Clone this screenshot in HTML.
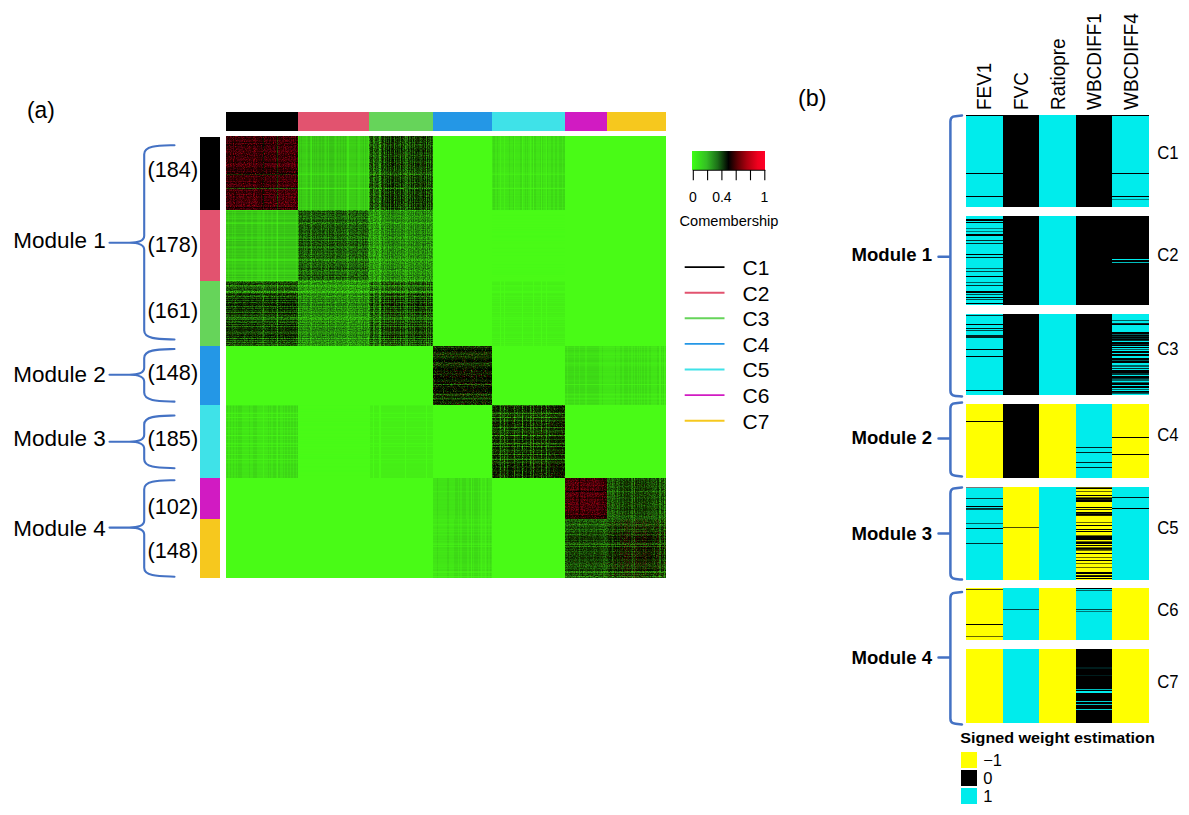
<!DOCTYPE html>
<html lang="en"><head><meta charset="utf-8"><title>Comembership heatmap and signed weight estimation</title>
<style>
html,body{margin:0;padding:0;background:#fff;}
svg{display:block;font-family:"Liberation Sans", sans-serif;}
text{fill:#000;}
</style></head><body>
<svg width="1189" height="815" viewBox="0 0 1189 815">
<rect width="1189" height="815" fill="#fff"/>
<g shape-rendering="crispEdges">
<rect x="226" y="112" width="72" height="19" fill="#000000"/>
<rect x="200" y="137" width="20" height="73" fill="#000000"/>
<rect x="298" y="112" width="71" height="19" fill="#E2536F"/>
<rect x="200" y="210" width="20" height="71" fill="#E2536F"/>
<rect x="369" y="112" width="64" height="19" fill="#66D45A"/>
<rect x="200" y="281" width="20" height="65" fill="#66D45A"/>
<rect x="433" y="112" width="59" height="19" fill="#2497E6"/>
<rect x="200" y="346" width="20" height="59" fill="#2497E6"/>
<rect x="492" y="112" width="73" height="19" fill="#3FE2E8"/>
<rect x="200" y="405" width="20" height="73" fill="#3FE2E8"/>
<rect x="565" y="112" width="42" height="19" fill="#D11BC2"/>
<rect x="200" y="478" width="20" height="41" fill="#D11BC2"/>
<rect x="607" y="112" width="59" height="19" fill="#F6C81E"/>
<rect x="200" y="519" width="20" height="59" fill="#F6C81E"/>
</g>
<defs><filter id="spk" x="0" y="0" width="1" height="1" color-interpolation-filters="sRGB"><feTurbulence type="fractalNoise" baseFrequency="0.85" numOctaves="1" seed="5" result="n"/><feColorMatrix in="n" type="matrix" values="0 0 0 0 0  0 0 0 0 0  0 0 0 0 0  2.6 0 0 0 -1.0"/><feComposite in2="SourceAlpha" operator="in"/></filter><filter id="spr" x="0" y="0" width="1" height="1" color-interpolation-filters="sRGB"><feTurbulence type="fractalNoise" baseFrequency="0.9" numOctaves="1" seed="23" result="n"/><feColorMatrix in="n" type="matrix" values="0 0 0 0 0.75  0 0 0 0 0.02  0 0 0 0 0.08  0 3.2 0 0 -1.75"/><feComposite in2="SourceAlpha" operator="in"/></filter><filter id="spg" x="0" y="0" width="1" height="1" color-interpolation-filters="sRGB"><feTurbulence type="fractalNoise" baseFrequency="0.9" numOctaves="1" seed="41" result="n"/><feColorMatrix in="n" type="matrix" values="0 0 0 0 0.28  0 0 0 0 0.98  0 0 0 0 0.09  0 0 2.6 0 -1.35"/><feComposite in2="SourceAlpha" operator="in"/></filter></defs>
<filter id="soft" x="-1%" y="-1%" width="102%" height="102%"><feGaussianBlur stdDeviation="0.5"/></filter>
<g filter="url(#soft)">
<g shape-rendering="crispEdges">
<rect x="226" y="136" width="440" height="442" fill="#48FB18"/>
<path d="M277.5 136V210" stroke="#20710B" fill="none"/>
<path d="M263.5 136V210" stroke="#0B2604" fill="none"/>
<path d="M296.5 136V210" stroke="#260204" fill="none"/>
<path d="M262.5 136V210" stroke="#300206" fill="none"/>
<path d="M235.5 136V210" stroke="#390307" fill="none"/>
<path d="M232.5 136V210M234.5 136V210M252.5 136V210M260.5 136V210M276.5 136V210" stroke="#430408" fill="none"/>
<path d="M228.5 136V210M245.5 136V210M258.5 136V210M271.5 136V210M284.5 136V210" stroke="#4C0409" fill="none"/>
<path d="M246.5 136V210M251.5 136V210M257.5 136V210M259.5 136V210M264.5 136V210M267.5 136V210M272.5 136V210" stroke="#55040A" fill="none"/>
<path d="M226.5 136V210M229.5 136V210M237.5 136V210M242.5 136V210M243.5 136V210M244.5 136V210M250.5 136V210M269.5 136V210M280.5 136V210M281.5 136V210M282.5 136V210" stroke="#5F050B" fill="none"/>
<path d="M231.5 136V210M236.5 136V210M238.5 136V210M247.5 136V210M248.5 136V210M255.5 136V210M261.5 136V210M265.5 136V210M266.5 136V210M268.5 136V210M274.5 136V210M287.5 136V210M290.5 136V210M292.5 136V210M293.5 136V210" stroke="#69060C" fill="none"/>
<path d="M227.5 136V210M239.5 136V210M240.5 136V210M256.5 136V210M273.5 136V210M275.5 136V210M278.5 136V210M288.5 136V210M289.5 136V210M297.5 136V210" stroke="#72060D" fill="none"/>
<path d="M230.5 136V210M233.5 136V210M241.5 136V210M253.5 136V210M285.5 136V210M286.5 136V210M294.5 136V210" stroke="#7B060E" fill="none"/>
<path d="M249.5 136V210M254.5 136V210M270.5 136V210M279.5 136V210M283.5 136V210M291.5 136V210M295.5 136V210" stroke="#85070F" fill="none"/>
<path d="M226 151.5H298M226 159.5H298M226 194.5H298M226 196.5H298" stroke="#000000" stroke-opacity="0.05" fill="none"/>
<path d="M226 140.5H298M226 143.5H298M226 197.5H298M226 205.5H298" stroke="#000000" stroke-opacity="0.1" fill="none"/>
<path d="M226 163.5H298M226 166.5H298" stroke="#000000" stroke-opacity="0.15" fill="none"/>
<path d="M226 137.5H298M226 149.5H298M226 150.5H298M226 165.5H298M226 184.5H298M226 185.5H298M226 186.5H298M226 189.5H298M226 199.5H298M226 200.5H298M226 208.5H298" stroke="#000000" stroke-opacity="0.2" fill="none"/>
<path d="M226 141.5H298M226 146.5H298M226 148.5H298M226 157.5H298M226 171.5H298M226 176.5H298M226 179.5H298M226 198.5H298M226 203.5H298M226 209.5H298" stroke="#000000" stroke-opacity="0.25" fill="none"/>
<path d="M226 147.5H298M226 153.5H298M226 158.5H298M226 160.5H298M226 177.5H298M226 201.5H298M226 204.5H298" stroke="#000000" stroke-opacity="0.3" fill="none"/>
<path d="M226 136.5H298M226 139.5H298M226 152.5H298M226 180.5H298M226 192.5H298M226 193.5H298" stroke="#000000" stroke-opacity="0.35" fill="none"/>
<path d="M226 154.5H298M226 169.5H298M226 175.5H298M226 178.5H298M226 191.5H298" stroke="#000000" stroke-opacity="0.4" fill="none"/>
<path d="M226 156.5H298M226 161.5H298M226 167.5H298M226 183.5H298" stroke="#000000" stroke-opacity="0.45" fill="none"/>
<path d="M226 138.5H298M226 155.5H298M226 168.5H298" stroke="#000000" stroke-opacity="0.5" fill="none"/>
<path d="M226 182.5H298M226 195.5H298" stroke="#000000" stroke-opacity="0.55" fill="none"/>
<path d="M226 162.5H298M226 170.5H298M226 187.5H298" stroke="#000000" stroke-opacity="0.6" fill="none"/>
<path d="M226 142.5H298M226 144.5H298M226 145.5H298" stroke="#000000" stroke-opacity="0.65" fill="none"/>
<path d="M226 172.5H298" stroke="#000000" stroke-opacity="0.7" fill="none"/>
<path d="M226 173.5H298M226 207.5H298" stroke="#000000" stroke-opacity="0.85" fill="none"/>
<path d="M226 174.5H298" stroke="#123F06" stroke-opacity="0.9" fill="none"/>
<path d="M226 188.5H298" stroke="#247E0C" stroke-opacity="0.9" fill="none"/>
<path d="M298.5 136V210M311.5 136V210M347.5 136V210M348.5 136V210M368.5 136V210" stroke="#41E216" fill="none"/>
<path d="M306.5 136V210M310.5 136V210M325.5 136V210M328.5 136V210M335.5 136V210M358.5 136V210M359.5 136V210M364.5 136V210" stroke="#3DD514" fill="none"/>
<path d="M300.5 136V210M302.5 136V210M303.5 136V210M304.5 136V210M305.5 136V210M307.5 136V210M313.5 136V210M315.5 136V210M317.5 136V210M318.5 136V210M321.5 136V210M324.5 136V210M326.5 136V210M334.5 136V210M336.5 136V210M338.5 136V210M339.5 136V210M341.5 136V210M342.5 136V210M344.5 136V210M346.5 136V210M349.5 136V210M350.5 136V210M351.5 136V210M352.5 136V210M353.5 136V210M354.5 136V210M355.5 136V210M357.5 136V210M360.5 136V210M361.5 136V210M362.5 136V210M366.5 136V210M367.5 136V210" stroke="#3AC913" fill="none"/>
<path d="M299.5 136V210M301.5 136V210M308.5 136V210M309.5 136V210M312.5 136V210M314.5 136V210M316.5 136V210M319.5 136V210M320.5 136V210M322.5 136V210M323.5 136V210M327.5 136V210M329.5 136V210M330.5 136V210M331.5 136V210M332.5 136V210M333.5 136V210M337.5 136V210M340.5 136V210M343.5 136V210M345.5 136V210M356.5 136V210M363.5 136V210M365.5 136V210" stroke="#36BC12" fill="none"/>
<path d="M298 137.5H369M298 140.5H369M298 143.5H369M298 149.5H369M298 150.5H369M298 163.5H369M298 165.5H369M298 166.5H369M298 184.5H369M298 185.5H369M298 186.5H369M298 189.5H369M298 197.5H369M298 199.5H369M298 200.5H369M298 205.5H369M298 208.5H369" stroke="#48FB18" stroke-opacity="0.05" fill="none"/>
<path d="M298 136.5H369M298 139.5H369M298 141.5H369M298 146.5H369M298 147.5H369M298 148.5H369M298 152.5H369M298 153.5H369M298 157.5H369M298 158.5H369M298 160.5H369M298 171.5H369M298 176.5H369M298 177.5H369M298 179.5H369M298 180.5H369M298 192.5H369M298 193.5H369M298 198.5H369M298 201.5H369M298 203.5H369M298 204.5H369M298 209.5H369" stroke="#48FB18" stroke-opacity="0.1" fill="none"/>
<path d="M298 138.5H369M298 154.5H369M298 155.5H369M298 156.5H369M298 161.5H369M298 167.5H369M298 168.5H369M298 169.5H369M298 175.5H369M298 178.5H369M298 183.5H369M298 191.5H369" stroke="#48FB18" stroke-opacity="0.15" fill="none"/>
<path d="M298 142.5H369M298 144.5H369M298 145.5H369M298 162.5H369M298 170.5H369M298 182.5H369M298 187.5H369M298 195.5H369" stroke="#48FB18" stroke-opacity="0.2" fill="none"/>
<path d="M298 172.5H369" stroke="#48FB18" stroke-opacity="0.25" fill="none"/>
<path d="M298 173.5H369M298 207.5H369" stroke="#48FB18" stroke-opacity="0.3" fill="none"/>
<path d="M298 174.5H369" stroke="#48FB18" stroke-opacity="0.5" fill="none"/>
<path d="M298 188.5H369" stroke="#48FB18" stroke-opacity="0.7" fill="none"/>
<path d="M379.5 136V210" stroke="#3AC913" fill="none"/>
<path d="M380.5 136V210" stroke="#36BC12" fill="none"/>
<path d="M373.5 136V210" stroke="#32B011" fill="none"/>
<path d="M369.5 136V210M426.5 136V210" stroke="#2FA310" fill="none"/>
<path d="M405.5 136V210" stroke="#2B970E" fill="none"/>
<path d="M374.5 136V210M384.5 136V210M400.5 136V210M407.5 136V210M414.5 136V210" stroke="#288A0D" fill="none"/>
<path d="M394.5 136V210M430.5 136V210" stroke="#247E0C" fill="none"/>
<path d="M390.5 136V210M406.5 136V210M428.5 136V210" stroke="#20710B" fill="none"/>
<path d="M378.5 136V210M388.5 136V210M409.5 136V210M410.5 136V210M412.5 136V210M432.5 136V210" stroke="#1D640A" fill="none"/>
<path d="M375.5 136V210M376.5 136V210M386.5 136V210M396.5 136V210M403.5 136V210M420.5 136V210" stroke="#195808" fill="none"/>
<path d="M370.5 136V210M377.5 136V210M421.5 136V210M424.5 136V210" stroke="#164B07" fill="none"/>
<path d="M371.5 136V210M381.5 136V210M383.5 136V210M398.5 136V210M419.5 136V210" stroke="#123F06" fill="none"/>
<path d="M399.5 136V210M402.5 136V210M404.5 136V210M429.5 136V210" stroke="#0E3205" fill="none"/>
<path d="M372.5 136V210M385.5 136V210M415.5 136V210M416.5 136V210M417.5 136V210M422.5 136V210M431.5 136V210" stroke="#0B2604" fill="none"/>
<path d="M391.5 136V210M408.5 136V210M418.5 136V210" stroke="#071902" fill="none"/>
<path d="M382.5 136V210M395.5 136V210M397.5 136V210M411.5 136V210M427.5 136V210" stroke="#040D01" fill="none"/>
<path d="M387.5 136V210M389.5 136V210M392.5 136V210M393.5 136V210M401.5 136V210M413.5 136V210M423.5 136V210M425.5 136V210" stroke="#000000" fill="none"/>
<path d="M369 137.5H433M369 140.5H433M369 143.5H433M369 149.5H433M369 150.5H433M369 163.5H433M369 165.5H433M369 166.5H433M369 184.5H433M369 185.5H433M369 186.5H433M369 189.5H433M369 197.5H433M369 199.5H433M369 200.5H433M369 205.5H433M369 208.5H433" stroke="#48FB18" stroke-opacity="0.05" fill="none"/>
<path d="M369 136.5H433M369 139.5H433M369 141.5H433M369 146.5H433M369 147.5H433M369 148.5H433M369 152.5H433M369 153.5H433M369 157.5H433M369 158.5H433M369 160.5H433M369 171.5H433M369 176.5H433M369 177.5H433M369 179.5H433M369 180.5H433M369 192.5H433M369 193.5H433M369 198.5H433M369 201.5H433M369 203.5H433M369 204.5H433M369 209.5H433" stroke="#48FB18" stroke-opacity="0.1" fill="none"/>
<path d="M369 138.5H433M369 154.5H433M369 155.5H433M369 156.5H433M369 161.5H433M369 167.5H433M369 168.5H433M369 169.5H433M369 175.5H433M369 178.5H433M369 183.5H433M369 191.5H433" stroke="#48FB18" stroke-opacity="0.15" fill="none"/>
<path d="M369 142.5H433M369 144.5H433M369 145.5H433M369 162.5H433M369 170.5H433M369 182.5H433M369 187.5H433M369 195.5H433" stroke="#48FB18" stroke-opacity="0.2" fill="none"/>
<path d="M369 172.5H433" stroke="#48FB18" stroke-opacity="0.25" fill="none"/>
<path d="M369 173.5H433M369 207.5H433" stroke="#48FB18" stroke-opacity="0.3" fill="none"/>
<path d="M369 174.5H433" stroke="#48FB18" stroke-opacity="0.5" fill="none"/>
<path d="M369 188.5H433" stroke="#48FB18" stroke-opacity="0.7" fill="none"/>
<path d="M500.5 136V210M504.5 136V210M514.5 136V210M522.5 136V210M530.5 136V210M533.5 136V210M541.5 136V210M546.5 136V210" stroke="#44EE17" fill="none"/>
<path d="M492.5 136V210M495.5 136V210M496.5 136V210M498.5 136V210M499.5 136V210M501.5 136V210M502.5 136V210M503.5 136V210M505.5 136V210M506.5 136V210M507.5 136V210M508.5 136V210M510.5 136V210M511.5 136V210M512.5 136V210M515.5 136V210M516.5 136V210M517.5 136V210M518.5 136V210M519.5 136V210M523.5 136V210M524.5 136V210M526.5 136V210M528.5 136V210M529.5 136V210M531.5 136V210M536.5 136V210M537.5 136V210M538.5 136V210M539.5 136V210M543.5 136V210M544.5 136V210M545.5 136V210M548.5 136V210M549.5 136V210M550.5 136V210M553.5 136V210M554.5 136V210M557.5 136V210M558.5 136V210M562.5 136V210" stroke="#41E216" fill="none"/>
<path d="M493.5 136V210M494.5 136V210M497.5 136V210M509.5 136V210M513.5 136V210M520.5 136V210M521.5 136V210M525.5 136V210M527.5 136V210M532.5 136V210M534.5 136V210M535.5 136V210M540.5 136V210M542.5 136V210M547.5 136V210M551.5 136V210M552.5 136V210M555.5 136V210M556.5 136V210M559.5 136V210M560.5 136V210M561.5 136V210M563.5 136V210M564.5 136V210" stroke="#3DD514" fill="none"/>
<path d="M492 137.5H565M492 140.5H565M492 143.5H565M492 149.5H565M492 150.5H565M492 163.5H565M492 165.5H565M492 166.5H565M492 184.5H565M492 185.5H565M492 186.5H565M492 189.5H565M492 197.5H565M492 199.5H565M492 200.5H565M492 205.5H565M492 208.5H565" stroke="#48FB18" stroke-opacity="0.05" fill="none"/>
<path d="M492 136.5H565M492 139.5H565M492 141.5H565M492 146.5H565M492 147.5H565M492 148.5H565M492 152.5H565M492 153.5H565M492 157.5H565M492 158.5H565M492 160.5H565M492 171.5H565M492 176.5H565M492 177.5H565M492 179.5H565M492 180.5H565M492 192.5H565M492 193.5H565M492 198.5H565M492 201.5H565M492 203.5H565M492 204.5H565M492 209.5H565" stroke="#48FB18" stroke-opacity="0.1" fill="none"/>
<path d="M492 138.5H565M492 154.5H565M492 155.5H565M492 156.5H565M492 161.5H565M492 167.5H565M492 168.5H565M492 169.5H565M492 175.5H565M492 178.5H565M492 183.5H565M492 191.5H565" stroke="#48FB18" stroke-opacity="0.15" fill="none"/>
<path d="M492 142.5H565M492 144.5H565M492 145.5H565M492 162.5H565M492 170.5H565M492 182.5H565M492 187.5H565M492 195.5H565" stroke="#48FB18" stroke-opacity="0.2" fill="none"/>
<path d="M492 172.5H565" stroke="#48FB18" stroke-opacity="0.25" fill="none"/>
<path d="M492 173.5H565M492 207.5H565" stroke="#48FB18" stroke-opacity="0.3" fill="none"/>
<path d="M492 174.5H565" stroke="#48FB18" stroke-opacity="0.5" fill="none"/>
<path d="M492 188.5H565" stroke="#48FB18" stroke-opacity="0.7" fill="none"/>
<path d="M277.5 210V281" stroke="#41E216" fill="none"/>
<path d="M263.5 210V281" stroke="#3DD514" fill="none"/>
<path d="M228.5 210V281M232.5 210V281M234.5 210V281M235.5 210V281M245.5 210V281M246.5 210V281M251.5 210V281M252.5 210V281M257.5 210V281M258.5 210V281M259.5 210V281M260.5 210V281M262.5 210V281M264.5 210V281M267.5 210V281M271.5 210V281M272.5 210V281M276.5 210V281M284.5 210V281M296.5 210V281" stroke="#3AC913" fill="none"/>
<path d="M226.5 210V281M227.5 210V281M229.5 210V281M230.5 210V281M231.5 210V281M233.5 210V281M236.5 210V281M237.5 210V281M238.5 210V281M239.5 210V281M240.5 210V281M241.5 210V281M242.5 210V281M243.5 210V281M244.5 210V281M247.5 210V281M248.5 210V281M249.5 210V281M250.5 210V281M253.5 210V281M254.5 210V281M255.5 210V281M256.5 210V281M261.5 210V281M265.5 210V281M266.5 210V281M268.5 210V281M269.5 210V281M270.5 210V281M273.5 210V281M274.5 210V281M275.5 210V281M278.5 210V281M279.5 210V281M280.5 210V281M281.5 210V281M282.5 210V281M283.5 210V281M285.5 210V281M286.5 210V281M287.5 210V281M288.5 210V281M289.5 210V281M290.5 210V281M291.5 210V281M292.5 210V281M293.5 210V281M294.5 210V281M295.5 210V281M297.5 210V281" stroke="#36BC12" fill="none"/>
<path d="M226 211.5H298M226 226.5H298M226 228.5H298M226 244.5H298M226 249.5H298M226 257.5H298" stroke="#48FB18" stroke-opacity="0.05" fill="none"/>
<path d="M226 221.5H298M226 224.5H298M226 231.5H298M226 232.5H298M226 235.5H298M226 252.5H298M226 255.5H298" stroke="#48FB18" stroke-opacity="0.1" fill="none"/>
<path d="M226 214.5H298M226 217.5H298M226 219.5H298M226 225.5H298M226 230.5H298M226 242.5H298M226 243.5H298M226 251.5H298M226 261.5H298M226 265.5H298M226 269.5H298" stroke="#48FB18" stroke-opacity="0.15" fill="none"/>
<path d="M226 215.5H298M226 227.5H298M226 229.5H298M226 236.5H298M226 248.5H298M226 264.5H298M226 267.5H298M226 272.5H298M226 274.5H298" stroke="#48FB18" stroke-opacity="0.2" fill="none"/>
<path d="M226 212.5H298M226 250.5H298M226 253.5H298M226 254.5H298M226 256.5H298M226 258.5H298M226 262.5H298M226 266.5H298M226 278.5H298M226 279.5H298" stroke="#48FB18" stroke-opacity="0.25" fill="none"/>
<path d="M226 216.5H298M226 233.5H298M226 238.5H298M226 246.5H298M226 263.5H298" stroke="#48FB18" stroke-opacity="0.3" fill="none"/>
<path d="M226 218.5H298M226 237.5H298M226 271.5H298M226 273.5H298" stroke="#48FB18" stroke-opacity="0.35" fill="none"/>
<path d="M226 222.5H298M226 247.5H298M226 276.5H298" stroke="#48FB18" stroke-opacity="0.4" fill="none"/>
<path d="M226 240.5H298M226 270.5H298" stroke="#48FB18" stroke-opacity="0.45" fill="none"/>
<path d="M226 223.5H298M226 259.5H298M226 260.5H298" stroke="#48FB18" stroke-opacity="0.55" fill="none"/>
<path d="M226 210.5H298" stroke="#48FB18" stroke-opacity="0.6" fill="none"/>
<path d="M226 280.5H298" stroke="#48FB18" stroke-opacity="0.65" fill="none"/>
<path d="M368.5 210V281" stroke="#32B011" fill="none"/>
<path d="M298.5 210V281M311.5 210V281M347.5 210V281" stroke="#2FA310" fill="none"/>
<path d="M348.5 210V281" stroke="#2B970E" fill="none"/>
<path d="M328.5 210V281M358.5 210V281" stroke="#288A0D" fill="none"/>
<path d="M310.5 210V281M335.5 210V281M364.5 210V281" stroke="#247E0C" fill="none"/>
<path d="M306.5 210V281M321.5 210V281M325.5 210V281M359.5 210V281M361.5 210V281" stroke="#20710B" fill="none"/>
<path d="M304.5 210V281M326.5 210V281M334.5 210V281M341.5 210V281M344.5 210V281M346.5 210V281M350.5 210V281M351.5 210V281M354.5 210V281M366.5 210V281" stroke="#1D640A" fill="none"/>
<path d="M300.5 210V281M303.5 210V281M315.5 210V281M317.5 210V281M324.5 210V281M336.5 210V281M338.5 210V281M342.5 210V281M352.5 210V281M355.5 210V281M360.5 210V281M362.5 210V281M367.5 210V281" stroke="#195808" fill="none"/>
<path d="M302.5 210V281M305.5 210V281M307.5 210V281M313.5 210V281M318.5 210V281M330.5 210V281M331.5 210V281M339.5 210V281M349.5 210V281M353.5 210V281M357.5 210V281" stroke="#164B07" fill="none"/>
<path d="M309.5 210V281M312.5 210V281M316.5 210V281M319.5 210V281M320.5 210V281M323.5 210V281M340.5 210V281M343.5 210V281M345.5 210V281" stroke="#123F06" fill="none"/>
<path d="M299.5 210V281M301.5 210V281M308.5 210V281M314.5 210V281M322.5 210V281M327.5 210V281M329.5 210V281M332.5 210V281M333.5 210V281M337.5 210V281M356.5 210V281M363.5 210V281M365.5 210V281" stroke="#0E3205" fill="none"/>
<path d="M298 211.5H369M298 226.5H369M298 228.5H369M298 244.5H369M298 249.5H369M298 257.5H369" stroke="#48FB18" stroke-opacity="0.05" fill="none"/>
<path d="M298 221.5H369M298 224.5H369M298 231.5H369M298 232.5H369M298 235.5H369M298 252.5H369M298 255.5H369" stroke="#48FB18" stroke-opacity="0.1" fill="none"/>
<path d="M298 214.5H369M298 217.5H369M298 219.5H369M298 225.5H369M298 230.5H369M298 242.5H369M298 243.5H369M298 251.5H369M298 261.5H369M298 265.5H369M298 269.5H369" stroke="#48FB18" stroke-opacity="0.15" fill="none"/>
<path d="M298 215.5H369M298 227.5H369M298 229.5H369M298 236.5H369M298 248.5H369M298 264.5H369M298 267.5H369M298 272.5H369M298 274.5H369" stroke="#48FB18" stroke-opacity="0.2" fill="none"/>
<path d="M298 212.5H369M298 250.5H369M298 253.5H369M298 254.5H369M298 256.5H369M298 258.5H369M298 262.5H369M298 266.5H369M298 278.5H369M298 279.5H369" stroke="#48FB18" stroke-opacity="0.25" fill="none"/>
<path d="M298 216.5H369M298 233.5H369M298 238.5H369M298 246.5H369M298 263.5H369" stroke="#48FB18" stroke-opacity="0.3" fill="none"/>
<path d="M298 218.5H369M298 237.5H369M298 271.5H369M298 273.5H369" stroke="#48FB18" stroke-opacity="0.35" fill="none"/>
<path d="M298 222.5H369M298 247.5H369M298 276.5H369" stroke="#48FB18" stroke-opacity="0.4" fill="none"/>
<path d="M298 240.5H369M298 270.5H369" stroke="#48FB18" stroke-opacity="0.45" fill="none"/>
<path d="M298 223.5H369M298 259.5H369M298 260.5H369" stroke="#48FB18" stroke-opacity="0.55" fill="none"/>
<path d="M298 210.5H369" stroke="#48FB18" stroke-opacity="0.6" fill="none"/>
<path d="M298 280.5H369" stroke="#48FB18" stroke-opacity="0.65" fill="none"/>
<path d="M379.5 210V281" stroke="#41E216" fill="none"/>
<path d="M373.5 210V281M380.5 210V281" stroke="#3DD514" fill="none"/>
<path d="M369.5 210V281M405.5 210V281M426.5 210V281" stroke="#3AC913" fill="none"/>
<path d="M374.5 210V281M384.5 210V281M400.5 210V281M407.5 210V281M414.5 210V281M430.5 210V281" stroke="#36BC12" fill="none"/>
<path d="M390.5 210V281M394.5 210V281M406.5 210V281M412.5 210V281M428.5 210V281M432.5 210V281" stroke="#32B011" fill="none"/>
<path d="M370.5 210V281M375.5 210V281M376.5 210V281M377.5 210V281M378.5 210V281M386.5 210V281M388.5 210V281M396.5 210V281M403.5 210V281M409.5 210V281M410.5 210V281M420.5 210V281M421.5 210V281M424.5 210V281" stroke="#2FA310" fill="none"/>
<path d="M371.5 210V281M381.5 210V281M383.5 210V281M398.5 210V281M419.5 210V281" stroke="#2B970E" fill="none"/>
<path d="M372.5 210V281M385.5 210V281M399.5 210V281M402.5 210V281M404.5 210V281M415.5 210V281M416.5 210V281M417.5 210V281M422.5 210V281M429.5 210V281M431.5 210V281" stroke="#288A0D" fill="none"/>
<path d="M382.5 210V281M391.5 210V281M395.5 210V281M397.5 210V281M408.5 210V281M411.5 210V281M418.5 210V281M427.5 210V281" stroke="#247E0C" fill="none"/>
<path d="M387.5 210V281M389.5 210V281M392.5 210V281M393.5 210V281M401.5 210V281M413.5 210V281M423.5 210V281M425.5 210V281" stroke="#20710B" fill="none"/>
<path d="M369 211.5H433M369 226.5H433M369 228.5H433M369 244.5H433M369 249.5H433M369 257.5H433" stroke="#48FB18" stroke-opacity="0.05" fill="none"/>
<path d="M369 221.5H433M369 224.5H433M369 231.5H433M369 232.5H433M369 235.5H433M369 252.5H433M369 255.5H433" stroke="#48FB18" stroke-opacity="0.1" fill="none"/>
<path d="M369 214.5H433M369 217.5H433M369 219.5H433M369 225.5H433M369 230.5H433M369 242.5H433M369 243.5H433M369 251.5H433M369 261.5H433M369 265.5H433M369 269.5H433" stroke="#48FB18" stroke-opacity="0.15" fill="none"/>
<path d="M369 215.5H433M369 227.5H433M369 229.5H433M369 236.5H433M369 248.5H433M369 264.5H433M369 267.5H433M369 272.5H433M369 274.5H433" stroke="#48FB18" stroke-opacity="0.2" fill="none"/>
<path d="M369 212.5H433M369 250.5H433M369 253.5H433M369 254.5H433M369 256.5H433M369 258.5H433M369 262.5H433M369 266.5H433M369 278.5H433M369 279.5H433" stroke="#48FB18" stroke-opacity="0.25" fill="none"/>
<path d="M369 216.5H433M369 233.5H433M369 238.5H433M369 246.5H433M369 263.5H433" stroke="#48FB18" stroke-opacity="0.3" fill="none"/>
<path d="M369 218.5H433M369 237.5H433M369 271.5H433M369 273.5H433" stroke="#48FB18" stroke-opacity="0.35" fill="none"/>
<path d="M369 222.5H433M369 247.5H433M369 276.5H433" stroke="#48FB18" stroke-opacity="0.4" fill="none"/>
<path d="M369 240.5H433M369 270.5H433" stroke="#48FB18" stroke-opacity="0.45" fill="none"/>
<path d="M369 223.5H433M369 259.5H433M369 260.5H433" stroke="#48FB18" stroke-opacity="0.55" fill="none"/>
<path d="M369 210.5H433" stroke="#48FB18" stroke-opacity="0.6" fill="none"/>
<path d="M369 280.5H433" stroke="#48FB18" stroke-opacity="0.65" fill="none"/>
<path d="M492 211.5H565M492 226.5H565M492 228.5H565M492 244.5H565M492 249.5H565M492 257.5H565" stroke="#48FB18" stroke-opacity="0.05" fill="none"/>
<path d="M492 221.5H565M492 224.5H565M492 231.5H565M492 232.5H565M492 235.5H565M492 252.5H565M492 255.5H565" stroke="#48FB18" stroke-opacity="0.1" fill="none"/>
<path d="M492 214.5H565M492 217.5H565M492 219.5H565M492 225.5H565M492 230.5H565M492 242.5H565M492 243.5H565M492 251.5H565M492 261.5H565M492 265.5H565M492 269.5H565" stroke="#48FB18" stroke-opacity="0.15" fill="none"/>
<path d="M492 215.5H565M492 227.5H565M492 229.5H565M492 236.5H565M492 248.5H565M492 264.5H565M492 267.5H565M492 272.5H565M492 274.5H565" stroke="#48FB18" stroke-opacity="0.2" fill="none"/>
<path d="M492 212.5H565M492 250.5H565M492 253.5H565M492 254.5H565M492 256.5H565M492 258.5H565M492 262.5H565M492 266.5H565M492 278.5H565M492 279.5H565" stroke="#48FB18" stroke-opacity="0.25" fill="none"/>
<path d="M492 216.5H565M492 233.5H565M492 238.5H565M492 246.5H565M492 263.5H565" stroke="#48FB18" stroke-opacity="0.3" fill="none"/>
<path d="M492 218.5H565M492 237.5H565M492 271.5H565M492 273.5H565" stroke="#48FB18" stroke-opacity="0.35" fill="none"/>
<path d="M492 222.5H565M492 247.5H565M492 276.5H565" stroke="#48FB18" stroke-opacity="0.4" fill="none"/>
<path d="M492 240.5H565M492 270.5H565" stroke="#48FB18" stroke-opacity="0.45" fill="none"/>
<path d="M492 223.5H565M492 259.5H565M492 260.5H565" stroke="#48FB18" stroke-opacity="0.55" fill="none"/>
<path d="M492 210.5H565" stroke="#48FB18" stroke-opacity="0.6" fill="none"/>
<path d="M492 280.5H565" stroke="#48FB18" stroke-opacity="0.65" fill="none"/>
<path d="M277.5 281V346" stroke="#32B011" fill="none"/>
<path d="M263.5 281V346" stroke="#247E0C" fill="none"/>
<path d="M262.5 281V346M296.5 281V346" stroke="#164B07" fill="none"/>
<path d="M232.5 281V346M234.5 281V346M235.5 281V346M252.5 281V346M260.5 281V346M271.5 281V346M276.5 281V346M284.5 281V346" stroke="#0E3205" fill="none"/>
<path d="M228.5 281V346M244.5 281V346M245.5 281V346M246.5 281V346M251.5 281V346M257.5 281V346M258.5 281V346M259.5 281V346M264.5 281V346M267.5 281V346M272.5 281V346M280.5 281V346" stroke="#0B2604" fill="none"/>
<path d="M226.5 281V346M229.5 281V346M231.5 281V346M236.5 281V346M237.5 281V346M238.5 281V346M242.5 281V346M243.5 281V346M247.5 281V346M248.5 281V346M250.5 281V346M261.5 281V346M265.5 281V346M266.5 281V346M268.5 281V346M269.5 281V346M281.5 281V346M282.5 281V346M287.5 281V346M290.5 281V346M292.5 281V346M293.5 281V346" stroke="#071902" fill="none"/>
<path d="M227.5 281V346M230.5 281V346M233.5 281V346M239.5 281V346M240.5 281V346M253.5 281V346M255.5 281V346M256.5 281V346M273.5 281V346M274.5 281V346M275.5 281V346M278.5 281V346M286.5 281V346M288.5 281V346M289.5 281V346M294.5 281V346M297.5 281V346" stroke="#040D01" fill="none"/>
<path d="M241.5 281V346M249.5 281V346M254.5 281V346M270.5 281V346M279.5 281V346M283.5 281V346M285.5 281V346M291.5 281V346M295.5 281V346" stroke="#000000" fill="none"/>
<path d="M226 294.5H298M226 307.5H298M226 309.5H298M226 323.5H298M226 339.5H298" stroke="#48FB18" stroke-opacity="0.05" fill="none"/>
<path d="M226 303.5H298M226 320.5H298M226 330.5H298" stroke="#48FB18" stroke-opacity="0.1" fill="none"/>
<path d="M226 284.5H298M226 297.5H298M226 327.5H298M226 328.5H298M226 329.5H298M226 334.5H298M226 343.5H298" stroke="#48FB18" stroke-opacity="0.15" fill="none"/>
<path d="M226 311.5H298M226 314.5H298M226 316.5H298M226 341.5H298" stroke="#48FB18" stroke-opacity="0.2" fill="none"/>
<path d="M226 283.5H298M226 293.5H298M226 295.5H298M226 310.5H298M226 331.5H298" stroke="#48FB18" stroke-opacity="0.25" fill="none"/>
<path d="M226 282.5H298M226 289.5H298M226 333.5H298M226 336.5H298M226 345.5H298" stroke="#48FB18" stroke-opacity="0.3" fill="none"/>
<path d="M226 287.5H298M226 288.5H298M226 298.5H298M226 308.5H298M226 315.5H298M226 332.5H298" stroke="#48FB18" stroke-opacity="0.35" fill="none"/>
<path d="M226 290.5H298M226 300.5H298M226 321.5H298M226 322.5H298M226 324.5H298M226 344.5H298" stroke="#48FB18" stroke-opacity="0.4" fill="none"/>
<path d="M226 302.5H298M226 318.5H298M226 340.5H298" stroke="#48FB18" stroke-opacity="0.45" fill="none"/>
<path d="M226 306.5H298M226 342.5H298" stroke="#48FB18" stroke-opacity="0.5" fill="none"/>
<path d="M226 286.5H298M226 296.5H298M226 312.5H298M226 319.5H298M226 326.5H298" stroke="#48FB18" stroke-opacity="0.55" fill="none"/>
<path d="M226 317.5H298" stroke="#48FB18" stroke-opacity="0.6" fill="none"/>
<path d="M226 281.5H298M226 338.5H298" stroke="#48FB18" stroke-opacity="0.65" fill="none"/>
<path d="M226 285.5H298" stroke="#48FB18" stroke-opacity="0.7" fill="none"/>
<path d="M226 292.5H298" stroke="#48FB18" stroke-opacity="0.75" fill="none"/>
<path d="M226 291.5H298" stroke="#48FB18" stroke-opacity="0.8" fill="none"/>
<path d="M298.5 281V346M368.5 281V346" stroke="#3AC913" fill="none"/>
<path d="M311.5 281V346M347.5 281V346M348.5 281V346" stroke="#36BC12" fill="none"/>
<path d="M310.5 281V346M328.5 281V346M335.5 281V346M358.5 281V346" stroke="#32B011" fill="none"/>
<path d="M306.5 281V346M325.5 281V346M359.5 281V346M361.5 281V346M364.5 281V346" stroke="#2FA310" fill="none"/>
<path d="M300.5 281V346M303.5 281V346M304.5 281V346M315.5 281V346M317.5 281V346M321.5 281V346M326.5 281V346M334.5 281V346M336.5 281V346M338.5 281V346M341.5 281V346M342.5 281V346M344.5 281V346M346.5 281V346M350.5 281V346M351.5 281V346M352.5 281V346M354.5 281V346M355.5 281V346M366.5 281V346M367.5 281V346" stroke="#2B970E" fill="none"/>
<path d="M302.5 281V346M305.5 281V346M307.5 281V346M313.5 281V346M318.5 281V346M324.5 281V346M330.5 281V346M331.5 281V346M339.5 281V346M349.5 281V346M353.5 281V346M357.5 281V346M360.5 281V346M362.5 281V346" stroke="#288A0D" fill="none"/>
<path d="M299.5 281V346M309.5 281V346M312.5 281V346M314.5 281V346M316.5 281V346M319.5 281V346M320.5 281V346M323.5 281V346M332.5 281V346M337.5 281V346M340.5 281V346M343.5 281V346M345.5 281V346" stroke="#247E0C" fill="none"/>
<path d="M301.5 281V346M308.5 281V346M322.5 281V346M327.5 281V346M329.5 281V346M333.5 281V346M356.5 281V346M363.5 281V346M365.5 281V346" stroke="#20710B" fill="none"/>
<path d="M298 294.5H369M298 307.5H369M298 309.5H369M298 323.5H369M298 339.5H369" stroke="#48FB18" stroke-opacity="0.05" fill="none"/>
<path d="M298 303.5H369M298 320.5H369M298 330.5H369" stroke="#48FB18" stroke-opacity="0.1" fill="none"/>
<path d="M298 284.5H369M298 297.5H369M298 327.5H369M298 328.5H369M298 329.5H369M298 334.5H369M298 343.5H369" stroke="#48FB18" stroke-opacity="0.15" fill="none"/>
<path d="M298 311.5H369M298 314.5H369M298 316.5H369M298 341.5H369" stroke="#48FB18" stroke-opacity="0.2" fill="none"/>
<path d="M298 283.5H369M298 293.5H369M298 295.5H369M298 310.5H369M298 331.5H369" stroke="#48FB18" stroke-opacity="0.25" fill="none"/>
<path d="M298 282.5H369M298 289.5H369M298 333.5H369M298 336.5H369M298 345.5H369" stroke="#48FB18" stroke-opacity="0.3" fill="none"/>
<path d="M298 287.5H369M298 288.5H369M298 298.5H369M298 308.5H369M298 315.5H369M298 332.5H369" stroke="#48FB18" stroke-opacity="0.35" fill="none"/>
<path d="M298 290.5H369M298 300.5H369M298 321.5H369M298 322.5H369M298 324.5H369M298 344.5H369" stroke="#48FB18" stroke-opacity="0.4" fill="none"/>
<path d="M298 302.5H369M298 318.5H369M298 340.5H369" stroke="#48FB18" stroke-opacity="0.45" fill="none"/>
<path d="M298 306.5H369M298 342.5H369" stroke="#48FB18" stroke-opacity="0.5" fill="none"/>
<path d="M298 286.5H369M298 296.5H369M298 312.5H369M298 319.5H369M298 326.5H369" stroke="#48FB18" stroke-opacity="0.55" fill="none"/>
<path d="M298 317.5H369" stroke="#48FB18" stroke-opacity="0.6" fill="none"/>
<path d="M298 281.5H369M298 338.5H369" stroke="#48FB18" stroke-opacity="0.65" fill="none"/>
<path d="M298 285.5H369" stroke="#48FB18" stroke-opacity="0.7" fill="none"/>
<path d="M298 292.5H369" stroke="#48FB18" stroke-opacity="0.75" fill="none"/>
<path d="M298 291.5H369" stroke="#48FB18" stroke-opacity="0.8" fill="none"/>
<path d="M379.5 281V346M380.5 281V346" stroke="#36BC12" fill="none"/>
<path d="M373.5 281V346M426.5 281V346" stroke="#2FA310" fill="none"/>
<path d="M369.5 281V346" stroke="#2B970E" fill="none"/>
<path d="M405.5 281V346" stroke="#288A0D" fill="none"/>
<path d="M374.5 281V346M384.5 281V346M400.5 281V346M407.5 281V346" stroke="#247E0C" fill="none"/>
<path d="M414.5 281V346M430.5 281V346" stroke="#20710B" fill="none"/>
<path d="M394.5 281V346M406.5 281V346M428.5 281V346" stroke="#1D640A" fill="none"/>
<path d="M390.5 281V346M412.5 281V346M432.5 281V346" stroke="#195808" fill="none"/>
<path d="M376.5 281V346M378.5 281V346M388.5 281V346M396.5 281V346M403.5 281V346M409.5 281V346M410.5 281V346" stroke="#164B07" fill="none"/>
<path d="M370.5 281V346M375.5 281V346M377.5 281V346M386.5 281V346M420.5 281V346M424.5 281V346" stroke="#123F06" fill="none"/>
<path d="M383.5 281V346M419.5 281V346M421.5 281V346" stroke="#0E3205" fill="none"/>
<path d="M371.5 281V346M381.5 281V346M398.5 281V346" stroke="#0B2604" fill="none"/>
<path d="M399.5 281V346M402.5 281V346M404.5 281V346M429.5 281V346" stroke="#071902" fill="none"/>
<path d="M372.5 281V346M385.5 281V346M415.5 281V346M416.5 281V346M417.5 281V346M422.5 281V346M431.5 281V346" stroke="#040D01" fill="none"/>
<path d="M408.5 281V346M418.5 281V346" stroke="#000000" fill="none"/>
<path d="M382.5 281V346M391.5 281V346M397.5 281V346" stroke="#0A0101" fill="none"/>
<path d="M387.5 281V346M389.5 281V346M392.5 281V346M393.5 281V346M395.5 281V346M401.5 281V346M411.5 281V346M413.5 281V346M423.5 281V346M425.5 281V346M427.5 281V346" stroke="#130102" fill="none"/>
<path d="M369 294.5H433M369 307.5H433M369 309.5H433M369 323.5H433M369 339.5H433" stroke="#48FB18" stroke-opacity="0.05" fill="none"/>
<path d="M369 303.5H433M369 320.5H433M369 330.5H433" stroke="#48FB18" stroke-opacity="0.1" fill="none"/>
<path d="M369 284.5H433M369 297.5H433M369 327.5H433M369 328.5H433M369 329.5H433M369 334.5H433M369 343.5H433" stroke="#48FB18" stroke-opacity="0.15" fill="none"/>
<path d="M369 311.5H433M369 314.5H433M369 316.5H433M369 341.5H433" stroke="#48FB18" stroke-opacity="0.2" fill="none"/>
<path d="M369 283.5H433M369 293.5H433M369 295.5H433M369 310.5H433M369 331.5H433" stroke="#48FB18" stroke-opacity="0.25" fill="none"/>
<path d="M369 282.5H433M369 289.5H433M369 333.5H433M369 336.5H433M369 345.5H433" stroke="#48FB18" stroke-opacity="0.3" fill="none"/>
<path d="M369 287.5H433M369 288.5H433M369 298.5H433M369 308.5H433M369 315.5H433M369 332.5H433" stroke="#48FB18" stroke-opacity="0.35" fill="none"/>
<path d="M369 290.5H433M369 300.5H433M369 321.5H433M369 322.5H433M369 324.5H433M369 344.5H433" stroke="#48FB18" stroke-opacity="0.4" fill="none"/>
<path d="M369 302.5H433M369 318.5H433M369 340.5H433" stroke="#48FB18" stroke-opacity="0.45" fill="none"/>
<path d="M369 306.5H433M369 342.5H433" stroke="#48FB18" stroke-opacity="0.5" fill="none"/>
<path d="M369 286.5H433M369 296.5H433M369 312.5H433M369 319.5H433M369 326.5H433" stroke="#48FB18" stroke-opacity="0.55" fill="none"/>
<path d="M369 317.5H433" stroke="#48FB18" stroke-opacity="0.6" fill="none"/>
<path d="M369 281.5H433M369 338.5H433" stroke="#48FB18" stroke-opacity="0.65" fill="none"/>
<path d="M369 285.5H433" stroke="#48FB18" stroke-opacity="0.7" fill="none"/>
<path d="M369 292.5H433" stroke="#48FB18" stroke-opacity="0.75" fill="none"/>
<path d="M369 291.5H433" stroke="#48FB18" stroke-opacity="0.8" fill="none"/>
<path d="M492.5 281V346M493.5 281V346M494.5 281V346M495.5 281V346M496.5 281V346M497.5 281V346M498.5 281V346M499.5 281V346M501.5 281V346M502.5 281V346M503.5 281V346M505.5 281V346M506.5 281V346M507.5 281V346M508.5 281V346M509.5 281V346M510.5 281V346M511.5 281V346M512.5 281V346M513.5 281V346M514.5 281V346M515.5 281V346M516.5 281V346M517.5 281V346M518.5 281V346M519.5 281V346M520.5 281V346M521.5 281V346M523.5 281V346M524.5 281V346M525.5 281V346M526.5 281V346M527.5 281V346M528.5 281V346M529.5 281V346M530.5 281V346M531.5 281V346M532.5 281V346M534.5 281V346M535.5 281V346M536.5 281V346M537.5 281V346M538.5 281V346M539.5 281V346M540.5 281V346M542.5 281V346M543.5 281V346M544.5 281V346M545.5 281V346M547.5 281V346M548.5 281V346M549.5 281V346M550.5 281V346M551.5 281V346M552.5 281V346M553.5 281V346M554.5 281V346M555.5 281V346M556.5 281V346M557.5 281V346M558.5 281V346M559.5 281V346M560.5 281V346M561.5 281V346M562.5 281V346M563.5 281V346M564.5 281V346" stroke="#44EE17" fill="none"/>
<path d="M492 294.5H565M492 307.5H565M492 309.5H565M492 323.5H565M492 339.5H565" stroke="#48FB18" stroke-opacity="0.05" fill="none"/>
<path d="M492 303.5H565M492 320.5H565M492 330.5H565" stroke="#48FB18" stroke-opacity="0.1" fill="none"/>
<path d="M492 284.5H565M492 297.5H565M492 327.5H565M492 328.5H565M492 329.5H565M492 334.5H565M492 343.5H565" stroke="#48FB18" stroke-opacity="0.15" fill="none"/>
<path d="M492 311.5H565M492 314.5H565M492 316.5H565M492 341.5H565" stroke="#48FB18" stroke-opacity="0.2" fill="none"/>
<path d="M492 283.5H565M492 293.5H565M492 295.5H565M492 310.5H565M492 331.5H565" stroke="#48FB18" stroke-opacity="0.25" fill="none"/>
<path d="M492 282.5H565M492 289.5H565M492 333.5H565M492 336.5H565M492 345.5H565" stroke="#48FB18" stroke-opacity="0.3" fill="none"/>
<path d="M492 287.5H565M492 288.5H565M492 298.5H565M492 308.5H565M492 315.5H565M492 332.5H565" stroke="#48FB18" stroke-opacity="0.35" fill="none"/>
<path d="M492 290.5H565M492 300.5H565M492 321.5H565M492 322.5H565M492 324.5H565M492 344.5H565" stroke="#48FB18" stroke-opacity="0.4" fill="none"/>
<path d="M492 302.5H565M492 318.5H565M492 340.5H565" stroke="#48FB18" stroke-opacity="0.45" fill="none"/>
<path d="M492 306.5H565M492 342.5H565" stroke="#48FB18" stroke-opacity="0.5" fill="none"/>
<path d="M492 286.5H565M492 296.5H565M492 312.5H565M492 319.5H565M492 326.5H565" stroke="#48FB18" stroke-opacity="0.55" fill="none"/>
<path d="M492 317.5H565" stroke="#48FB18" stroke-opacity="0.6" fill="none"/>
<path d="M492 281.5H565M492 338.5H565" stroke="#48FB18" stroke-opacity="0.65" fill="none"/>
<path d="M492 285.5H565" stroke="#48FB18" stroke-opacity="0.7" fill="none"/>
<path d="M492 292.5H565" stroke="#48FB18" stroke-opacity="0.75" fill="none"/>
<path d="M492 291.5H565" stroke="#48FB18" stroke-opacity="0.8" fill="none"/>
<path d="M471.5 346V405" stroke="#288A0D" fill="none"/>
<path d="M481.5 346V405M485.5 346V405" stroke="#195808" fill="none"/>
<path d="M450.5 346V405" stroke="#123F06" fill="none"/>
<path d="M434.5 346V405M440.5 346V405M441.5 346V405M443.5 346V405M486.5 346V405" stroke="#0B2604" fill="none"/>
<path d="M444.5 346V405M451.5 346V405M452.5 346V405M482.5 346V405" stroke="#040D01" fill="none"/>
<path d="M433.5 346V405M449.5 346V405M480.5 346V405M488.5 346V405M489.5 346V405M491.5 346V405" stroke="#000000" fill="none"/>
<path d="M436.5 346V405M439.5 346V405M442.5 346V405M467.5 346V405M484.5 346V405" stroke="#0A0101" fill="none"/>
<path d="M435.5 346V405M438.5 346V405M445.5 346V405M446.5 346V405M453.5 346V405M458.5 346V405M460.5 346V405M461.5 346V405M468.5 346V405M473.5 346V405M478.5 346V405M483.5 346V405" stroke="#130102" fill="none"/>
<path d="M454.5 346V405M466.5 346V405M490.5 346V405" stroke="#1C0103" fill="none"/>
<path d="M455.5 346V405M462.5 346V405M474.5 346V405M475.5 346V405M477.5 346V405" stroke="#260204" fill="none"/>
<path d="M437.5 346V405M447.5 346V405M448.5 346V405M456.5 346V405M465.5 346V405M469.5 346V405M472.5 346V405M479.5 346V405M487.5 346V405" stroke="#300206" fill="none"/>
<path d="M459.5 346V405M464.5 346V405M476.5 346V405" stroke="#390307" fill="none"/>
<path d="M457.5 346V405M463.5 346V405M470.5 346V405" stroke="#430408" fill="none"/>
<path d="M433 383.5H492" stroke="#000000" stroke-opacity="0.35" fill="none"/>
<path d="M433 389.5H492" stroke="#000000" stroke-opacity="0.5" fill="none"/>
<path d="M433 372.5H492" stroke="#000000" stroke-opacity="0.55" fill="none"/>
<path d="M433 377.5H492" stroke="#000000" stroke-opacity="0.85" fill="none"/>
<path d="M433 350.5H492M433 361.5H492M433 369.5H492M433 378.5H492M433 382.5H492M433 385.5H492" stroke="#000000" stroke-opacity="0.9" fill="none"/>
<path d="M433 360.5H492M433 392.5H492" stroke="#000000" stroke-opacity="0.95" fill="none"/>
<path d="M433 368.5H492M433 375.5H492M433 387.5H492M433 388.5H492M433 390.5H492M433 400.5H492" stroke="#040D01" stroke-opacity="0.9" fill="none"/>
<path d="M433 348.5H492M433 351.5H492M433 359.5H492M433 367.5H492M433 379.5H492M433 391.5H492M433 403.5H492" stroke="#071902" stroke-opacity="0.9" fill="none"/>
<path d="M433 349.5H492M433 355.5H492M433 358.5H492M433 366.5H492M433 371.5H492M433 373.5H492M433 374.5H492M433 380.5H492M433 381.5H492M433 386.5H492M433 396.5H492" stroke="#0B2604" stroke-opacity="0.9" fill="none"/>
<path d="M433 346.5H492M433 352.5H492M433 362.5H492M433 393.5H492M433 397.5H492M433 401.5H492M433 402.5H492M433 404.5H492" stroke="#0E3205" stroke-opacity="0.9" fill="none"/>
<path d="M433 357.5H492M433 364.5H492M433 365.5H492M433 395.5H492" stroke="#123F06" stroke-opacity="0.9" fill="none"/>
<path d="M433 353.5H492M433 356.5H492M433 399.5H492" stroke="#164B07" stroke-opacity="0.9" fill="none"/>
<path d="M433 347.5H492M433 354.5H492" stroke="#195808" stroke-opacity="0.9" fill="none"/>
<path d="M433 363.5H492" stroke="#1D640A" stroke-opacity="0.9" fill="none"/>
<path d="M433 394.5H492M433 398.5H492" stroke="#247E0C" stroke-opacity="0.9" fill="none"/>
<path d="M433 384.5H492" stroke="#2FA310" stroke-opacity="0.9" fill="none"/>
<path d="M567.5 346V405M574.5 346V405M579.5 346V405M585.5 346V405M586.5 346V405M599.5 346V405M600.5 346V405M601.5 346V405M603.5 346V405M604.5 346V405M605.5 346V405M606.5 346V405" stroke="#41E216" fill="none"/>
<path d="M565.5 346V405M566.5 346V405M568.5 346V405M569.5 346V405M570.5 346V405M571.5 346V405M572.5 346V405M573.5 346V405M575.5 346V405M576.5 346V405M577.5 346V405M578.5 346V405M580.5 346V405M581.5 346V405M582.5 346V405M583.5 346V405M584.5 346V405M587.5 346V405M588.5 346V405M589.5 346V405M590.5 346V405M591.5 346V405M592.5 346V405M593.5 346V405M594.5 346V405M595.5 346V405M596.5 346V405M597.5 346V405M598.5 346V405M602.5 346V405" stroke="#3DD514" fill="none"/>
<path d="M565 350.5H607M565 360.5H607M565 372.5H607M565 377.5H607M565 383.5H607M565 389.5H607M565 392.5H607" stroke="#48FB18" stroke-opacity="0.05" fill="none"/>
<path d="M565 361.5H607M565 368.5H607M565 369.5H607M565 375.5H607M565 378.5H607M565 382.5H607M565 385.5H607M565 387.5H607M565 388.5H607M565 390.5H607M565 400.5H607" stroke="#48FB18" stroke-opacity="0.1" fill="none"/>
<path d="M565 367.5H607M565 379.5H607M565 403.5H607" stroke="#48FB18" stroke-opacity="0.15" fill="none"/>
<path d="M565 348.5H607M565 351.5H607M565 355.5H607M565 358.5H607M565 359.5H607M565 366.5H607M565 371.5H607M565 373.5H607M565 374.5H607M565 381.5H607M565 386.5H607M565 391.5H607M565 396.5H607" stroke="#48FB18" stroke-opacity="0.2" fill="none"/>
<path d="M565 346.5H607M565 349.5H607M565 352.5H607M565 380.5H607M565 393.5H607M565 397.5H607" stroke="#48FB18" stroke-opacity="0.25" fill="none"/>
<path d="M565 357.5H607M565 362.5H607M565 364.5H607M565 365.5H607M565 395.5H607M565 401.5H607M565 402.5H607M565 404.5H607" stroke="#48FB18" stroke-opacity="0.3" fill="none"/>
<path d="M565 353.5H607M565 356.5H607M565 399.5H607" stroke="#48FB18" stroke-opacity="0.35" fill="none"/>
<path d="M565 347.5H607M565 354.5H607" stroke="#48FB18" stroke-opacity="0.4" fill="none"/>
<path d="M565 363.5H607" stroke="#48FB18" stroke-opacity="0.45" fill="none"/>
<path d="M565 394.5H607" stroke="#48FB18" stroke-opacity="0.5" fill="none"/>
<path d="M565 398.5H607" stroke="#48FB18" stroke-opacity="0.55" fill="none"/>
<path d="M565 384.5H607" stroke="#48FB18" stroke-opacity="0.65" fill="none"/>
<path d="M659.5 346V405M660.5 346V405M664.5 346V405" stroke="#44EE17" fill="none"/>
<path d="M607.5 346V405M608.5 346V405M609.5 346V405M610.5 346V405M611.5 346V405M612.5 346V405M613.5 346V405M614.5 346V405M616.5 346V405M617.5 346V405M618.5 346V405M619.5 346V405M622.5 346V405M623.5 346V405M628.5 346V405M631.5 346V405M632.5 346V405M634.5 346V405M637.5 346V405M639.5 346V405M641.5 346V405M644.5 346V405M647.5 346V405M648.5 346V405M651.5 346V405M652.5 346V405M653.5 346V405M654.5 346V405M655.5 346V405M656.5 346V405M662.5 346V405M665.5 346V405" stroke="#41E216" fill="none"/>
<path d="M615.5 346V405M620.5 346V405M621.5 346V405M624.5 346V405M625.5 346V405M626.5 346V405M627.5 346V405M629.5 346V405M630.5 346V405M633.5 346V405M635.5 346V405M636.5 346V405M638.5 346V405M640.5 346V405M642.5 346V405M643.5 346V405M645.5 346V405M646.5 346V405M649.5 346V405M650.5 346V405M657.5 346V405M658.5 346V405M661.5 346V405M663.5 346V405" stroke="#3DD514" fill="none"/>
<path d="M607 350.5H666M607 360.5H666M607 372.5H666M607 377.5H666M607 383.5H666M607 389.5H666M607 392.5H666" stroke="#48FB18" stroke-opacity="0.05" fill="none"/>
<path d="M607 361.5H666M607 368.5H666M607 369.5H666M607 375.5H666M607 378.5H666M607 382.5H666M607 385.5H666M607 387.5H666M607 388.5H666M607 390.5H666M607 400.5H666" stroke="#48FB18" stroke-opacity="0.1" fill="none"/>
<path d="M607 367.5H666M607 379.5H666M607 403.5H666" stroke="#48FB18" stroke-opacity="0.15" fill="none"/>
<path d="M607 348.5H666M607 351.5H666M607 355.5H666M607 358.5H666M607 359.5H666M607 366.5H666M607 371.5H666M607 373.5H666M607 374.5H666M607 381.5H666M607 386.5H666M607 391.5H666M607 396.5H666" stroke="#48FB18" stroke-opacity="0.2" fill="none"/>
<path d="M607 346.5H666M607 349.5H666M607 352.5H666M607 380.5H666M607 393.5H666M607 397.5H666" stroke="#48FB18" stroke-opacity="0.25" fill="none"/>
<path d="M607 357.5H666M607 362.5H666M607 364.5H666M607 365.5H666M607 395.5H666M607 401.5H666M607 402.5H666M607 404.5H666" stroke="#48FB18" stroke-opacity="0.3" fill="none"/>
<path d="M607 353.5H666M607 356.5H666M607 399.5H666" stroke="#48FB18" stroke-opacity="0.35" fill="none"/>
<path d="M607 347.5H666M607 354.5H666" stroke="#48FB18" stroke-opacity="0.4" fill="none"/>
<path d="M607 363.5H666" stroke="#48FB18" stroke-opacity="0.45" fill="none"/>
<path d="M607 394.5H666" stroke="#48FB18" stroke-opacity="0.5" fill="none"/>
<path d="M607 398.5H666" stroke="#48FB18" stroke-opacity="0.55" fill="none"/>
<path d="M607 384.5H666" stroke="#48FB18" stroke-opacity="0.65" fill="none"/>
<path d="M263.5 405V478M277.5 405V478" stroke="#44EE17" fill="none"/>
<path d="M226.5 405V478M228.5 405V478M229.5 405V478M231.5 405V478M232.5 405V478M234.5 405V478M235.5 405V478M237.5 405V478M242.5 405V478M243.5 405V478M244.5 405V478M245.5 405V478M246.5 405V478M247.5 405V478M248.5 405V478M250.5 405V478M251.5 405V478M252.5 405V478M257.5 405V478M258.5 405V478M259.5 405V478M260.5 405V478M261.5 405V478M262.5 405V478M264.5 405V478M265.5 405V478M266.5 405V478M267.5 405V478M269.5 405V478M271.5 405V478M272.5 405V478M276.5 405V478M280.5 405V478M281.5 405V478M282.5 405V478M284.5 405V478M287.5 405V478M290.5 405V478M293.5 405V478M296.5 405V478" stroke="#41E216" fill="none"/>
<path d="M227.5 405V478M230.5 405V478M233.5 405V478M236.5 405V478M238.5 405V478M239.5 405V478M240.5 405V478M241.5 405V478M249.5 405V478M253.5 405V478M254.5 405V478M255.5 405V478M256.5 405V478M268.5 405V478M270.5 405V478M273.5 405V478M274.5 405V478M275.5 405V478M278.5 405V478M279.5 405V478M283.5 405V478M285.5 405V478M286.5 405V478M288.5 405V478M289.5 405V478M291.5 405V478M292.5 405V478M294.5 405V478M295.5 405V478M297.5 405V478" stroke="#3DD514" fill="none"/>
<path d="M226 406.5H298M226 407.5H298M226 410.5H298M226 434.5H298M226 438.5H298M226 440.5H298M226 447.5H298M226 448.5H298M226 460.5H298M226 469.5H298M226 473.5H298M226 476.5H298M226 477.5H298" stroke="#48FB18" stroke-opacity="0.05" fill="none"/>
<path d="M226 409.5H298M226 411.5H298M226 418.5H298M226 423.5H298M226 424.5H298M226 425.5H298M226 429.5H298M226 433.5H298M226 437.5H298M226 441.5H298M226 456.5H298M226 457.5H298M226 466.5H298M226 470.5H298M226 471.5H298" stroke="#48FB18" stroke-opacity="0.1" fill="none"/>
<path d="M226 408.5H298M226 414.5H298M226 416.5H298M226 419.5H298M226 428.5H298M226 436.5H298M226 442.5H298M226 449.5H298M226 451.5H298M226 452.5H298M226 463.5H298M226 467.5H298M226 475.5H298" stroke="#48FB18" stroke-opacity="0.15" fill="none"/>
<path d="M226 421.5H298M226 458.5H298" stroke="#48FB18" stroke-opacity="0.2" fill="none"/>
<path d="M226 412.5H298M226 415.5H298M226 431.5H298M226 432.5H298M226 461.5H298" stroke="#48FB18" stroke-opacity="0.25" fill="none"/>
<path d="M226 444.5H298M226 450.5H298M226 462.5H298" stroke="#48FB18" stroke-opacity="0.3" fill="none"/>
<path d="M226 430.5H298M226 439.5H298" stroke="#48FB18" stroke-opacity="0.35" fill="none"/>
<path d="M226 420.5H298" stroke="#48FB18" stroke-opacity="0.4" fill="none"/>
<path d="M226 405.5H298" stroke="#48FB18" stroke-opacity="0.45" fill="none"/>
<path d="M226 427.5H298" stroke="#48FB18" stroke-opacity="0.55" fill="none"/>
<path d="M226 443.5H298M226 446.5H298M226 454.5H298" stroke="#48FB18" stroke-opacity="0.6" fill="none"/>
<path d="M226 413.5H298M226 459.5H298" stroke="#48FB18" stroke-opacity="0.65" fill="none"/>
<path d="M226 417.5H298" stroke="#48FB18" stroke-opacity="0.7" fill="none"/>
<path d="M226 435.5H298" stroke="#48FB18" stroke-opacity="0.75" fill="none"/>
<path d="M298 406.5H369M298 407.5H369M298 410.5H369M298 434.5H369M298 438.5H369M298 440.5H369M298 447.5H369M298 448.5H369M298 460.5H369M298 469.5H369M298 473.5H369M298 476.5H369M298 477.5H369" stroke="#48FB18" stroke-opacity="0.05" fill="none"/>
<path d="M298 409.5H369M298 411.5H369M298 418.5H369M298 423.5H369M298 424.5H369M298 425.5H369M298 429.5H369M298 433.5H369M298 437.5H369M298 441.5H369M298 456.5H369M298 457.5H369M298 466.5H369M298 470.5H369M298 471.5H369" stroke="#48FB18" stroke-opacity="0.1" fill="none"/>
<path d="M298 408.5H369M298 414.5H369M298 416.5H369M298 419.5H369M298 428.5H369M298 436.5H369M298 442.5H369M298 449.5H369M298 451.5H369M298 452.5H369M298 463.5H369M298 467.5H369M298 475.5H369" stroke="#48FB18" stroke-opacity="0.15" fill="none"/>
<path d="M298 421.5H369M298 458.5H369" stroke="#48FB18" stroke-opacity="0.2" fill="none"/>
<path d="M298 412.5H369M298 415.5H369M298 431.5H369M298 432.5H369M298 461.5H369" stroke="#48FB18" stroke-opacity="0.25" fill="none"/>
<path d="M298 444.5H369M298 450.5H369M298 462.5H369" stroke="#48FB18" stroke-opacity="0.3" fill="none"/>
<path d="M298 430.5H369M298 439.5H369" stroke="#48FB18" stroke-opacity="0.35" fill="none"/>
<path d="M298 420.5H369" stroke="#48FB18" stroke-opacity="0.4" fill="none"/>
<path d="M298 405.5H369" stroke="#48FB18" stroke-opacity="0.45" fill="none"/>
<path d="M298 427.5H369" stroke="#48FB18" stroke-opacity="0.55" fill="none"/>
<path d="M298 443.5H369M298 446.5H369M298 454.5H369" stroke="#48FB18" stroke-opacity="0.6" fill="none"/>
<path d="M298 413.5H369M298 459.5H369" stroke="#48FB18" stroke-opacity="0.65" fill="none"/>
<path d="M298 417.5H369" stroke="#48FB18" stroke-opacity="0.7" fill="none"/>
<path d="M298 435.5H369" stroke="#48FB18" stroke-opacity="0.75" fill="none"/>
<path d="M370.5 405V478M371.5 405V478M372.5 405V478M374.5 405V478M375.5 405V478M376.5 405V478M377.5 405V478M378.5 405V478M381.5 405V478M382.5 405V478M383.5 405V478M384.5 405V478M385.5 405V478M386.5 405V478M387.5 405V478M388.5 405V478M389.5 405V478M390.5 405V478M391.5 405V478M392.5 405V478M393.5 405V478M394.5 405V478M395.5 405V478M396.5 405V478M397.5 405V478M398.5 405V478M399.5 405V478M400.5 405V478M401.5 405V478M402.5 405V478M403.5 405V478M404.5 405V478M406.5 405V478M407.5 405V478M408.5 405V478M409.5 405V478M410.5 405V478M411.5 405V478M412.5 405V478M413.5 405V478M414.5 405V478M415.5 405V478M416.5 405V478M417.5 405V478M418.5 405V478M419.5 405V478M420.5 405V478M421.5 405V478M422.5 405V478M423.5 405V478M424.5 405V478M425.5 405V478M427.5 405V478M428.5 405V478M429.5 405V478M430.5 405V478M431.5 405V478M432.5 405V478" stroke="#44EE17" fill="none"/>
<path d="M369 406.5H433M369 407.5H433M369 410.5H433M369 434.5H433M369 438.5H433M369 440.5H433M369 447.5H433M369 448.5H433M369 460.5H433M369 469.5H433M369 473.5H433M369 476.5H433M369 477.5H433" stroke="#48FB18" stroke-opacity="0.05" fill="none"/>
<path d="M369 409.5H433M369 411.5H433M369 418.5H433M369 423.5H433M369 424.5H433M369 425.5H433M369 429.5H433M369 433.5H433M369 437.5H433M369 441.5H433M369 456.5H433M369 457.5H433M369 466.5H433M369 470.5H433M369 471.5H433" stroke="#48FB18" stroke-opacity="0.1" fill="none"/>
<path d="M369 408.5H433M369 414.5H433M369 416.5H433M369 419.5H433M369 428.5H433M369 436.5H433M369 442.5H433M369 449.5H433M369 451.5H433M369 452.5H433M369 463.5H433M369 467.5H433M369 475.5H433" stroke="#48FB18" stroke-opacity="0.15" fill="none"/>
<path d="M369 421.5H433M369 458.5H433" stroke="#48FB18" stroke-opacity="0.2" fill="none"/>
<path d="M369 412.5H433M369 415.5H433M369 431.5H433M369 432.5H433M369 461.5H433" stroke="#48FB18" stroke-opacity="0.25" fill="none"/>
<path d="M369 444.5H433M369 450.5H433M369 462.5H433" stroke="#48FB18" stroke-opacity="0.3" fill="none"/>
<path d="M369 430.5H433M369 439.5H433" stroke="#48FB18" stroke-opacity="0.35" fill="none"/>
<path d="M369 420.5H433" stroke="#48FB18" stroke-opacity="0.4" fill="none"/>
<path d="M369 405.5H433" stroke="#48FB18" stroke-opacity="0.45" fill="none"/>
<path d="M369 427.5H433" stroke="#48FB18" stroke-opacity="0.55" fill="none"/>
<path d="M369 443.5H433M369 446.5H433M369 454.5H433" stroke="#48FB18" stroke-opacity="0.6" fill="none"/>
<path d="M369 413.5H433M369 459.5H433" stroke="#48FB18" stroke-opacity="0.65" fill="none"/>
<path d="M369 417.5H433" stroke="#48FB18" stroke-opacity="0.7" fill="none"/>
<path d="M369 435.5H433" stroke="#48FB18" stroke-opacity="0.75" fill="none"/>
<path d="M522.5 405V478" stroke="#32B011" fill="none"/>
<path d="M504.5 405V478" stroke="#2FA310" fill="none"/>
<path d="M500.5 405V478M533.5 405V478M546.5 405V478" stroke="#2B970E" fill="none"/>
<path d="M530.5 405V478M541.5 405V478" stroke="#288A0D" fill="none"/>
<path d="M514.5 405V478" stroke="#247E0C" fill="none"/>
<path d="M492.5 405V478" stroke="#1D640A" fill="none"/>
<path d="M507.5 405V478" stroke="#195808" fill="none"/>
<path d="M517.5 405V478M526.5 405V478" stroke="#164B07" fill="none"/>
<path d="M531.5 405V478M549.5 405V478" stroke="#123F06" fill="none"/>
<path d="M499.5 405V478M502.5 405V478M519.5 405V478M537.5 405V478M548.5 405V478" stroke="#0E3205" fill="none"/>
<path d="M518.5 405V478M545.5 405V478" stroke="#0B2604" fill="none"/>
<path d="M495.5 405V478M501.5 405V478M503.5 405V478M506.5 405V478M508.5 405V478M515.5 405V478M536.5 405V478M538.5 405V478M539.5 405V478M554.5 405V478" stroke="#071902" fill="none"/>
<path d="M496.5 405V478M505.5 405V478M510.5 405V478M512.5 405V478M516.5 405V478M523.5 405V478M524.5 405V478M528.5 405V478M529.5 405V478M543.5 405V478M544.5 405V478M550.5 405V478M553.5 405V478M557.5 405V478M562.5 405V478" stroke="#040D01" fill="none"/>
<path d="M494.5 405V478M498.5 405V478M511.5 405V478M520.5 405V478M521.5 405V478M525.5 405V478M527.5 405V478M534.5 405V478M556.5 405V478M558.5 405V478M560.5 405V478M563.5 405V478" stroke="#000000" fill="none"/>
<path d="M493.5 405V478M497.5 405V478M509.5 405V478M535.5 405V478M540.5 405V478M547.5 405V478M552.5 405V478M564.5 405V478" stroke="#0A0101" fill="none"/>
<path d="M513.5 405V478M532.5 405V478M542.5 405V478M551.5 405V478M555.5 405V478M559.5 405V478M561.5 405V478" stroke="#130102" fill="none"/>
<path d="M492 406.5H565M492 407.5H565M492 410.5H565M492 434.5H565M492 438.5H565M492 440.5H565M492 447.5H565M492 448.5H565M492 460.5H565M492 469.5H565M492 473.5H565M492 476.5H565M492 477.5H565" stroke="#48FB18" stroke-opacity="0.05" fill="none"/>
<path d="M492 409.5H565M492 411.5H565M492 418.5H565M492 423.5H565M492 424.5H565M492 425.5H565M492 429.5H565M492 433.5H565M492 437.5H565M492 441.5H565M492 456.5H565M492 457.5H565M492 466.5H565M492 470.5H565M492 471.5H565" stroke="#48FB18" stroke-opacity="0.1" fill="none"/>
<path d="M492 408.5H565M492 414.5H565M492 416.5H565M492 419.5H565M492 428.5H565M492 436.5H565M492 442.5H565M492 449.5H565M492 451.5H565M492 452.5H565M492 463.5H565M492 467.5H565M492 475.5H565" stroke="#48FB18" stroke-opacity="0.15" fill="none"/>
<path d="M492 421.5H565M492 458.5H565" stroke="#48FB18" stroke-opacity="0.2" fill="none"/>
<path d="M492 412.5H565M492 415.5H565M492 431.5H565M492 432.5H565M492 461.5H565" stroke="#48FB18" stroke-opacity="0.25" fill="none"/>
<path d="M492 444.5H565M492 450.5H565M492 462.5H565" stroke="#48FB18" stroke-opacity="0.3" fill="none"/>
<path d="M492 430.5H565M492 439.5H565" stroke="#48FB18" stroke-opacity="0.35" fill="none"/>
<path d="M492 420.5H565" stroke="#48FB18" stroke-opacity="0.4" fill="none"/>
<path d="M492 405.5H565" stroke="#48FB18" stroke-opacity="0.45" fill="none"/>
<path d="M492 427.5H565" stroke="#48FB18" stroke-opacity="0.55" fill="none"/>
<path d="M492 443.5H565M492 446.5H565M492 454.5H565" stroke="#48FB18" stroke-opacity="0.6" fill="none"/>
<path d="M492 413.5H565M492 459.5H565" stroke="#48FB18" stroke-opacity="0.65" fill="none"/>
<path d="M492 417.5H565" stroke="#48FB18" stroke-opacity="0.7" fill="none"/>
<path d="M492 435.5H565" stroke="#48FB18" stroke-opacity="0.75" fill="none"/>
<path d="M471.5 478V519M481.5 478V519M485.5 478V519" stroke="#44EE17" fill="none"/>
<path d="M433.5 478V519M434.5 478V519M435.5 478V519M436.5 478V519M438.5 478V519M439.5 478V519M440.5 478V519M441.5 478V519M442.5 478V519M443.5 478V519M444.5 478V519M445.5 478V519M446.5 478V519M449.5 478V519M450.5 478V519M451.5 478V519M452.5 478V519M453.5 478V519M454.5 478V519M458.5 478V519M460.5 478V519M461.5 478V519M466.5 478V519M467.5 478V519M468.5 478V519M473.5 478V519M478.5 478V519M480.5 478V519M482.5 478V519M483.5 478V519M484.5 478V519M486.5 478V519M488.5 478V519M489.5 478V519M490.5 478V519M491.5 478V519" stroke="#41E216" fill="none"/>
<path d="M437.5 478V519M447.5 478V519M448.5 478V519M455.5 478V519M456.5 478V519M457.5 478V519M459.5 478V519M462.5 478V519M463.5 478V519M464.5 478V519M465.5 478V519M469.5 478V519M470.5 478V519M472.5 478V519M474.5 478V519M475.5 478V519M476.5 478V519M477.5 478V519M479.5 478V519M487.5 478V519" stroke="#3DD514" fill="none"/>
<path d="M433 480.5H492M433 482.5H492M433 483.5H492M433 484.5H492M433 488.5H492M433 490.5H492M433 493.5H492M433 494.5H492M433 496.5H492M433 500.5H492M433 504.5H492M433 507.5H492M433 510.5H492M433 514.5H492" stroke="#48FB18" stroke-opacity="0.05" fill="none"/>
<path d="M433 478.5H492M433 481.5H492M433 487.5H492M433 492.5H492M433 495.5H492M433 501.5H492M433 502.5H492M433 503.5H492M433 505.5H492M433 506.5H492M433 508.5H492" stroke="#48FB18" stroke-opacity="0.1" fill="none"/>
<path d="M433 479.5H492M433 486.5H492M433 497.5H492M433 498.5H492M433 511.5H492M433 512.5H492M433 513.5H492" stroke="#48FB18" stroke-opacity="0.15" fill="none"/>
<path d="M433 515.5H492M433 517.5H492M433 518.5H492" stroke="#48FB18" stroke-opacity="0.2" fill="none"/>
<path d="M433 516.5H492" stroke="#48FB18" stroke-opacity="0.25" fill="none"/>
<path d="M433 491.5H492" stroke="#48FB18" stroke-opacity="0.35" fill="none"/>
<path d="M579.5 478V519" stroke="#130102" fill="none"/>
<path d="M604.5 478V519" stroke="#390307" fill="none"/>
<path d="M603.5 478V519" stroke="#430408" fill="none"/>
<path d="M586.5 478V519M605.5 478V519M606.5 478V519" stroke="#4C0409" fill="none"/>
<path d="M567.5 478V519M574.5 478V519M601.5 478V519" stroke="#55040A" fill="none"/>
<path d="M585.5 478V519M599.5 478V519M600.5 478V519" stroke="#5F050B" fill="none"/>
<path d="M565.5 478V519M566.5 478V519M569.5 478V519M575.5 478V519M580.5 478V519M583.5 478V519M589.5 478V519M591.5 478V519M593.5 478V519M594.5 478V519M596.5 478V519" stroke="#69060C" fill="none"/>
<path d="M571.5 478V519M572.5 478V519M578.5 478V519M588.5 478V519M590.5 478V519" stroke="#72060D" fill="none"/>
<path d="M568.5 478V519M570.5 478V519M576.5 478V519M582.5 478V519M584.5 478V519M592.5 478V519M595.5 478V519M598.5 478V519M602.5 478V519" stroke="#7B060E" fill="none"/>
<path d="M573.5 478V519M577.5 478V519M581.5 478V519M587.5 478V519M597.5 478V519" stroke="#85070F" fill="none"/>
<path d="M565 493.5H607M565 509.5H607" stroke="#000000" stroke-opacity="0.05" fill="none"/>
<path d="M565 480.5H607M565 494.5H607M565 504.5H607M565 510.5H607M565 514.5H607" stroke="#000000" stroke-opacity="0.1" fill="none"/>
<path d="M565 482.5H607M565 483.5H607M565 488.5H607M565 496.5H607M565 507.5H607" stroke="#000000" stroke-opacity="0.15" fill="none"/>
<path d="M565 484.5H607M565 490.5H607M565 500.5H607M565 502.5H607" stroke="#000000" stroke-opacity="0.2" fill="none"/>
<path d="M565 492.5H607M565 495.5H607M565 501.5H607M565 503.5H607" stroke="#000000" stroke-opacity="0.25" fill="none"/>
<path d="M565 478.5H607M565 481.5H607M565 487.5H607M565 505.5H607M565 506.5H607M565 508.5H607" stroke="#000000" stroke-opacity="0.3" fill="none"/>
<path d="M565 486.5H607M565 497.5H607M565 511.5H607M565 512.5H607" stroke="#000000" stroke-opacity="0.4" fill="none"/>
<path d="M565 479.5H607M565 513.5H607" stroke="#000000" stroke-opacity="0.45" fill="none"/>
<path d="M565 498.5H607M565 517.5H607" stroke="#000000" stroke-opacity="0.5" fill="none"/>
<path d="M565 518.5H607" stroke="#000000" stroke-opacity="0.55" fill="none"/>
<path d="M565 515.5H607" stroke="#000000" stroke-opacity="0.6" fill="none"/>
<path d="M565 516.5H607" stroke="#000000" stroke-opacity="0.7" fill="none"/>
<path d="M565 491.5H607" stroke="#000000" stroke-opacity="0.95" fill="none"/>
<path d="M664.5 478V519" stroke="#32B011" fill="none"/>
<path d="M660.5 478V519" stroke="#2FA310" fill="none"/>
<path d="M659.5 478V519" stroke="#2B970E" fill="none"/>
<path d="M612.5 478V519M632.5 478V519M634.5 478V519" stroke="#288A0D" fill="none"/>
<path d="M607.5 478V519M617.5 478V519" stroke="#247E0C" fill="none"/>
<path d="M619.5 478V519M631.5 478V519" stroke="#20710B" fill="none"/>
<path d="M608.5 478V519M609.5 478V519M613.5 478V519M622.5 478V519M654.5 478V519M656.5 478V519M662.5 478V519M665.5 478V519" stroke="#1D640A" fill="none"/>
<path d="M610.5 478V519M611.5 478V519M614.5 478V519M628.5 478V519M639.5 478V519M648.5 478V519M652.5 478V519M653.5 478V519" stroke="#195808" fill="none"/>
<path d="M616.5 478V519M618.5 478V519M623.5 478V519M637.5 478V519M641.5 478V519M644.5 478V519M647.5 478V519M651.5 478V519M655.5 478V519" stroke="#164B07" fill="none"/>
<path d="M615.5 478V519M625.5 478V519M630.5 478V519M642.5 478V519M649.5 478V519M650.5 478V519M661.5 478V519M663.5 478V519" stroke="#123F06" fill="none"/>
<path d="M620.5 478V519M621.5 478V519M626.5 478V519M635.5 478V519M640.5 478V519M646.5 478V519M657.5 478V519" stroke="#0E3205" fill="none"/>
<path d="M624.5 478V519M627.5 478V519M629.5 478V519M633.5 478V519M636.5 478V519M638.5 478V519M643.5 478V519M645.5 478V519M658.5 478V519" stroke="#0B2604" fill="none"/>
<path d="M607 480.5H666M607 482.5H666M607 483.5H666M607 484.5H666M607 488.5H666M607 490.5H666M607 493.5H666M607 494.5H666M607 496.5H666M607 500.5H666M607 504.5H666M607 507.5H666M607 510.5H666M607 514.5H666" stroke="#48FB18" stroke-opacity="0.05" fill="none"/>
<path d="M607 478.5H666M607 481.5H666M607 487.5H666M607 492.5H666M607 495.5H666M607 501.5H666M607 502.5H666M607 503.5H666M607 505.5H666M607 506.5H666M607 508.5H666" stroke="#48FB18" stroke-opacity="0.1" fill="none"/>
<path d="M607 479.5H666M607 486.5H666M607 497.5H666M607 498.5H666M607 511.5H666M607 512.5H666M607 513.5H666" stroke="#48FB18" stroke-opacity="0.15" fill="none"/>
<path d="M607 515.5H666M607 517.5H666M607 518.5H666" stroke="#48FB18" stroke-opacity="0.2" fill="none"/>
<path d="M607 516.5H666" stroke="#48FB18" stroke-opacity="0.25" fill="none"/>
<path d="M607 491.5H666" stroke="#48FB18" stroke-opacity="0.35" fill="none"/>
<path d="M471.5 519V578M481.5 519V578M485.5 519V578" stroke="#44EE17" fill="none"/>
<path d="M433.5 519V578M434.5 519V578M435.5 519V578M436.5 519V578M438.5 519V578M439.5 519V578M440.5 519V578M441.5 519V578M442.5 519V578M443.5 519V578M444.5 519V578M445.5 519V578M446.5 519V578M449.5 519V578M450.5 519V578M451.5 519V578M452.5 519V578M453.5 519V578M458.5 519V578M460.5 519V578M461.5 519V578M467.5 519V578M468.5 519V578M473.5 519V578M478.5 519V578M480.5 519V578M482.5 519V578M483.5 519V578M484.5 519V578M486.5 519V578M488.5 519V578M489.5 519V578M491.5 519V578" stroke="#41E216" fill="none"/>
<path d="M437.5 519V578M447.5 519V578M448.5 519V578M454.5 519V578M455.5 519V578M456.5 519V578M457.5 519V578M459.5 519V578M462.5 519V578M463.5 519V578M464.5 519V578M465.5 519V578M466.5 519V578M469.5 519V578M470.5 519V578M472.5 519V578M474.5 519V578M475.5 519V578M476.5 519V578M477.5 519V578M479.5 519V578M487.5 519V578M490.5 519V578" stroke="#3DD514" fill="none"/>
<path d="M433 533.5H492M433 538.5H492M433 547.5H492M433 550.5H492M433 555.5H492M433 558.5H492" stroke="#48FB18" stroke-opacity="0.05" fill="none"/>
<path d="M433 527.5H492M433 532.5H492M433 537.5H492M433 552.5H492M433 561.5H492M433 569.5H492" stroke="#48FB18" stroke-opacity="0.1" fill="none"/>
<path d="M433 542.5H492M433 549.5H492M433 553.5H492M433 554.5H492M433 556.5H492M433 562.5H492M433 567.5H492M433 573.5H492M433 575.5H492" stroke="#48FB18" stroke-opacity="0.15" fill="none"/>
<path d="M433 522.5H492M433 528.5H492M433 530.5H492M433 535.5H492M433 559.5H492M433 560.5H492M433 563.5H492" stroke="#48FB18" stroke-opacity="0.2" fill="none"/>
<path d="M433 523.5H492M433 526.5H492M433 540.5H492M433 551.5H492M433 564.5H492M433 565.5H492" stroke="#48FB18" stroke-opacity="0.25" fill="none"/>
<path d="M433 520.5H492M433 521.5H492M433 525.5H492M433 566.5H492M433 568.5H492M433 574.5H492M433 577.5H492" stroke="#48FB18" stroke-opacity="0.3" fill="none"/>
<path d="M433 531.5H492M433 534.5H492M433 543.5H492" stroke="#48FB18" stroke-opacity="0.35" fill="none"/>
<path d="M433 519.5H492M433 529.5H492" stroke="#48FB18" stroke-opacity="0.4" fill="none"/>
<path d="M433 524.5H492M433 544.5H492M433 546.5H492" stroke="#48FB18" stroke-opacity="0.5" fill="none"/>
<path d="M433 571.5H492" stroke="#48FB18" stroke-opacity="0.55" fill="none"/>
<path d="M433 572.5H492" stroke="#48FB18" stroke-opacity="0.6" fill="none"/>
<path d="M433 576.5H492" stroke="#48FB18" stroke-opacity="0.65" fill="none"/>
<path d="M579.5 519V578" stroke="#20710B" fill="none"/>
<path d="M603.5 519V578M604.5 519V578" stroke="#195808" fill="none"/>
<path d="M567.5 519V578M586.5 519V578M601.5 519V578M605.5 519V578M606.5 519V578" stroke="#164B07" fill="none"/>
<path d="M565.5 519V578M566.5 519V578M569.5 519V578M574.5 519V578M585.5 519V578M593.5 519V578M594.5 519V578M596.5 519V578M599.5 519V578M600.5 519V578" stroke="#123F06" fill="none"/>
<path d="M570.5 519V578M571.5 519V578M572.5 519V578M575.5 519V578M576.5 519V578M578.5 519V578M580.5 519V578M583.5 519V578M584.5 519V578M588.5 519V578M589.5 519V578M590.5 519V578M591.5 519V578M595.5 519V578M602.5 519V578" stroke="#0E3205" fill="none"/>
<path d="M568.5 519V578M573.5 519V578M577.5 519V578M581.5 519V578M582.5 519V578M587.5 519V578M592.5 519V578M597.5 519V578M598.5 519V578" stroke="#0B2604" fill="none"/>
<path d="M565 533.5H607M565 538.5H607M565 547.5H607M565 550.5H607M565 555.5H607M565 558.5H607" stroke="#48FB18" stroke-opacity="0.05" fill="none"/>
<path d="M565 527.5H607M565 532.5H607M565 537.5H607M565 552.5H607M565 561.5H607M565 569.5H607" stroke="#48FB18" stroke-opacity="0.1" fill="none"/>
<path d="M565 542.5H607M565 549.5H607M565 553.5H607M565 554.5H607M565 556.5H607M565 562.5H607M565 567.5H607M565 573.5H607M565 575.5H607" stroke="#48FB18" stroke-opacity="0.15" fill="none"/>
<path d="M565 522.5H607M565 528.5H607M565 530.5H607M565 535.5H607M565 559.5H607M565 560.5H607M565 563.5H607" stroke="#48FB18" stroke-opacity="0.2" fill="none"/>
<path d="M565 523.5H607M565 526.5H607M565 540.5H607M565 551.5H607M565 564.5H607M565 565.5H607" stroke="#48FB18" stroke-opacity="0.25" fill="none"/>
<path d="M565 520.5H607M565 521.5H607M565 525.5H607M565 566.5H607M565 568.5H607M565 574.5H607M565 577.5H607" stroke="#48FB18" stroke-opacity="0.3" fill="none"/>
<path d="M565 531.5H607M565 534.5H607M565 543.5H607" stroke="#48FB18" stroke-opacity="0.35" fill="none"/>
<path d="M565 519.5H607M565 529.5H607" stroke="#48FB18" stroke-opacity="0.4" fill="none"/>
<path d="M565 524.5H607M565 544.5H607M565 546.5H607" stroke="#48FB18" stroke-opacity="0.5" fill="none"/>
<path d="M565 571.5H607" stroke="#48FB18" stroke-opacity="0.55" fill="none"/>
<path d="M565 572.5H607" stroke="#48FB18" stroke-opacity="0.6" fill="none"/>
<path d="M565 576.5H607" stroke="#48FB18" stroke-opacity="0.65" fill="none"/>
<path d="M664.5 519V578" stroke="#2B970E" fill="none"/>
<path d="M660.5 519V578" stroke="#247E0C" fill="none"/>
<path d="M659.5 519V578" stroke="#20710B" fill="none"/>
<path d="M612.5 519V578M632.5 519V578M634.5 519V578" stroke="#195808" fill="none"/>
<path d="M607.5 519V578" stroke="#164B07" fill="none"/>
<path d="M617.5 519V578" stroke="#123F06" fill="none"/>
<path d="M619.5 519V578M631.5 519V578" stroke="#0E3205" fill="none"/>
<path d="M608.5 519V578M609.5 519V578M613.5 519V578M622.5 519V578M654.5 519V578M662.5 519V578M665.5 519V578" stroke="#0B2604" fill="none"/>
<path d="M611.5 519V578M628.5 519V578M653.5 519V578M656.5 519V578" stroke="#071902" fill="none"/>
<path d="M610.5 519V578M614.5 519V578M639.5 519V578M648.5 519V578M652.5 519V578" stroke="#040D01" fill="none"/>
<path d="M616.5 519V578M618.5 519V578M623.5 519V578M641.5 519V578M644.5 519V578M647.5 519V578M651.5 519V578" stroke="#000000" fill="none"/>
<path d="M630.5 519V578M637.5 519V578M650.5 519V578M655.5 519V578M661.5 519V578M663.5 519V578" stroke="#0A0101" fill="none"/>
<path d="M615.5 519V578M625.5 519V578M642.5 519V578M649.5 519V578" stroke="#130102" fill="none"/>
<path d="M620.5 519V578M621.5 519V578M635.5 519V578M640.5 519V578M646.5 519V578M657.5 519V578" stroke="#1C0103" fill="none"/>
<path d="M626.5 519V578M633.5 519V578M638.5 519V578M643.5 519V578" stroke="#260204" fill="none"/>
<path d="M624.5 519V578M627.5 519V578M629.5 519V578M636.5 519V578M645.5 519V578M658.5 519V578" stroke="#300206" fill="none"/>
<path d="M607 533.5H666M607 538.5H666M607 547.5H666M607 550.5H666M607 555.5H666M607 558.5H666" stroke="#48FB18" stroke-opacity="0.05" fill="none"/>
<path d="M607 527.5H666M607 532.5H666M607 537.5H666M607 552.5H666M607 561.5H666M607 569.5H666" stroke="#48FB18" stroke-opacity="0.1" fill="none"/>
<path d="M607 542.5H666M607 549.5H666M607 553.5H666M607 554.5H666M607 556.5H666M607 562.5H666M607 567.5H666M607 573.5H666M607 575.5H666" stroke="#48FB18" stroke-opacity="0.15" fill="none"/>
<path d="M607 522.5H666M607 528.5H666M607 530.5H666M607 535.5H666M607 559.5H666M607 560.5H666M607 563.5H666" stroke="#48FB18" stroke-opacity="0.2" fill="none"/>
<path d="M607 523.5H666M607 526.5H666M607 540.5H666M607 551.5H666M607 564.5H666M607 565.5H666" stroke="#48FB18" stroke-opacity="0.25" fill="none"/>
<path d="M607 520.5H666M607 521.5H666M607 525.5H666M607 566.5H666M607 568.5H666M607 574.5H666M607 577.5H666" stroke="#48FB18" stroke-opacity="0.3" fill="none"/>
<path d="M607 531.5H666M607 534.5H666M607 543.5H666" stroke="#48FB18" stroke-opacity="0.35" fill="none"/>
<path d="M607 519.5H666M607 529.5H666" stroke="#48FB18" stroke-opacity="0.4" fill="none"/>
<path d="M607 524.5H666M607 544.5H666M607 546.5H666" stroke="#48FB18" stroke-opacity="0.5" fill="none"/>
<path d="M607 571.5H666" stroke="#48FB18" stroke-opacity="0.55" fill="none"/>
<path d="M607 572.5H666" stroke="#48FB18" stroke-opacity="0.6" fill="none"/>
<path d="M607 576.5H666" stroke="#48FB18" stroke-opacity="0.65" fill="none"/>
</g>
<rect x="226" y="136" width="72" height="74" filter="url(#spk)" opacity="0.75"/>
<rect x="226" y="136" width="72" height="74" filter="url(#spr)" opacity="1.00"/>
<rect x="369" y="136" width="64" height="74" filter="url(#spk)" opacity="0.72"/>
<rect x="369" y="136" width="64" height="74" filter="url(#spg)" opacity="0.51"/>
<rect x="369" y="136" width="64" height="74" filter="url(#spr)" opacity="0.27"/>
<rect x="298" y="210" width="71" height="71" filter="url(#spk)" opacity="0.64"/>
<rect x="298" y="210" width="71" height="71" filter="url(#spg)" opacity="0.46"/>
<rect x="298" y="210" width="71" height="71" filter="url(#spr)" opacity="0.14"/>
<rect x="369" y="210" width="64" height="71" filter="url(#spk)" opacity="0.48"/>
<rect x="226" y="281" width="72" height="65" filter="url(#spk)" opacity="0.72"/>
<rect x="226" y="281" width="72" height="65" filter="url(#spg)" opacity="0.51"/>
<rect x="226" y="281" width="72" height="65" filter="url(#spr)" opacity="0.27"/>
<rect x="298" y="281" width="71" height="65" filter="url(#spk)" opacity="0.48"/>
<rect x="369" y="281" width="64" height="65" filter="url(#spk)" opacity="0.67"/>
<rect x="369" y="281" width="64" height="65" filter="url(#spg)" opacity="0.48"/>
<rect x="369" y="281" width="64" height="65" filter="url(#spr)" opacity="0.20"/>
<rect x="433" y="346" width="59" height="59" filter="url(#spk)" opacity="0.89"/>
<rect x="433" y="346" width="59" height="59" filter="url(#spg)" opacity="0.63"/>
<rect x="433" y="346" width="59" height="59" filter="url(#spr)" opacity="0.54"/>
<rect x="492" y="405" width="73" height="73" filter="url(#spk)" opacity="0.79"/>
<rect x="492" y="405" width="73" height="73" filter="url(#spg)" opacity="0.56"/>
<rect x="492" y="405" width="73" height="73" filter="url(#spr)" opacity="0.38"/>
<rect x="565" y="478" width="42" height="41" filter="url(#spk)" opacity="0.75"/>
<rect x="565" y="478" width="42" height="41" filter="url(#spr)" opacity="1.00"/>
<rect x="607" y="478" width="59" height="41" filter="url(#spk)" opacity="0.71"/>
<rect x="607" y="478" width="59" height="41" filter="url(#spg)" opacity="0.51"/>
<rect x="607" y="478" width="59" height="41" filter="url(#spr)" opacity="0.25"/>
<rect x="565" y="519" width="42" height="59" filter="url(#spk)" opacity="0.71"/>
<rect x="565" y="519" width="42" height="59" filter="url(#spg)" opacity="0.51"/>
<rect x="565" y="519" width="42" height="59" filter="url(#spr)" opacity="0.25"/>
<rect x="607" y="519" width="59" height="59" filter="url(#spk)" opacity="0.83"/>
<rect x="607" y="519" width="59" height="59" filter="url(#spg)" opacity="0.58"/>
<rect x="607" y="519" width="59" height="59" filter="url(#spr)" opacity="0.44"/>
</g>
<text x="27" y="117.8" font-size="24.5" font-weight="normal" text-anchor="start" textLength="27.8" lengthAdjust="spacingAndGlyphs">(a)</text>
<text x="147.6" y="177.2" font-size="21.5" font-weight="normal" text-anchor="start" textLength="50.5" lengthAdjust="spacingAndGlyphs">(184)</text>
<text x="147.6" y="252.3" font-size="21.5" font-weight="normal" text-anchor="start" textLength="50.5" lengthAdjust="spacingAndGlyphs">(178)</text>
<text x="147.6" y="317.9" font-size="21.5" font-weight="normal" text-anchor="start" textLength="50.5" lengthAdjust="spacingAndGlyphs">(161)</text>
<text x="147.6" y="380.0" font-size="21.5" font-weight="normal" text-anchor="start" textLength="50.5" lengthAdjust="spacingAndGlyphs">(148)</text>
<text x="147.6" y="446.1" font-size="21.5" font-weight="normal" text-anchor="start" textLength="50.5" lengthAdjust="spacingAndGlyphs">(185)</text>
<text x="147.6" y="513.6" font-size="21.5" font-weight="normal" text-anchor="start" textLength="50.5" lengthAdjust="spacingAndGlyphs">(102)</text>
<text x="147.6" y="557.5" font-size="21.5" font-weight="normal" text-anchor="start" textLength="50.5" lengthAdjust="spacingAndGlyphs">(148)</text>
<text x="13.2" y="248.4" font-size="21.4" font-weight="normal" text-anchor="start" textLength="92.5" lengthAdjust="spacingAndGlyphs">Module 1</text>
<text x="13.2" y="382.4" font-size="21.4" font-weight="normal" text-anchor="start" textLength="92.5" lengthAdjust="spacingAndGlyphs">Module 2</text>
<text x="13.2" y="445.9" font-size="21.4" font-weight="normal" text-anchor="start" textLength="92.5" lengthAdjust="spacingAndGlyphs">Module 3</text>
<text x="13.2" y="536.2" font-size="21.4" font-weight="normal" text-anchor="start" textLength="92.5" lengthAdjust="spacingAndGlyphs">Module 4</text>
<path d="M174.5 145.2 C160.2 145.7 144.2 145.2 144.2 154.2 V235.8 C144.2 240.8 138.2 242.8 129.2 242.8 H109.5 M129.2 242.8 C138.2 242.8 144.2 244.8 144.2 249.8 V330.5 C144.2 339.5 160.2 339.0 174.5 339.5" fill="none" stroke="#4472C4" stroke-width="2.1" stroke-linecap="round"/>
<path d="M174.5 349.0 C160.2 349.5 144.2 349.0 144.2 358.0 V367.8 C144.2 372.8 138.2 374.8 129.2 374.8 H109.5 M129.2 374.8 C138.2 374.8 144.2 376.8 144.2 381.8 V392.6 C144.2 401.6 160.2 401.1 174.5 401.6" fill="none" stroke="#4472C4" stroke-width="2.1" stroke-linecap="round"/>
<path d="M174.5 415.5 C160.2 416.0 144.2 415.5 144.2 424.5 V434.7 C144.2 439.7 138.2 441.7 129.2 441.7 H109.5 M129.2 441.7 C138.2 441.7 144.2 443.7 144.2 448.7 V459.2 C144.2 468.2 160.2 467.7 174.5 468.2" fill="none" stroke="#4472C4" stroke-width="2.1" stroke-linecap="round"/>
<path d="M174.5 480.2 C160.2 480.7 144.2 480.2 144.2 489.2 V520.6 C144.2 525.6 138.2 527.6 129.2 527.6 H109.5 M129.2 527.6 C138.2 527.6 144.2 529.6 144.2 534.6 V567.7 C144.2 576.7 160.2 576.2 174.5 576.7" fill="none" stroke="#4472C4" stroke-width="2.1" stroke-linecap="round"/>
<defs><linearGradient id="cg" x1="0" x2="1" y1="0" y2="0"><stop offset="0" stop-color="#3CFF14"/><stop offset="0.2" stop-color="#34BE24"/><stop offset="0.35" stop-color="#1C7018"/><stop offset="0.5" stop-color="#000"/><stop offset="0.62" stop-color="#5A0004"/><stop offset="0.75" stop-color="#AA000F"/><stop offset="0.9" stop-color="#F0001E"/><stop offset="1" stop-color="#FF0028"/></linearGradient></defs>
<rect x="692" y="151" width="73" height="19" fill="url(#cg)"/>
<path d="M692.8 170.3H765.3" stroke="#000" stroke-width="1.1" fill="none"/>
<path d="M693.3 170V180.2M707.6 170V180.2M721.9 170V180.2M736.2 170V180.2M750.5 170V180.2M764.8 170V180.2" stroke="#000" stroke-width="1.1" fill="none"/>
<text x="693.0" y="202" font-size="14" font-weight="normal" text-anchor="middle">0</text>
<text x="721.9" y="202" font-size="14" font-weight="normal" text-anchor="middle">0.4</text>
<text x="764.4" y="202" font-size="14" font-weight="normal" text-anchor="middle">1</text>
<text x="679.5" y="225.6" font-size="14" font-weight="normal" text-anchor="start" textLength="99" lengthAdjust="spacingAndGlyphs">Comembership</text>
<path d="M684.7 267.1H724.5" stroke="#000000" stroke-width="1.9" fill="none"/>
<text x="742.5" y="274.9" font-size="21" font-weight="normal" text-anchor="start">C1</text>
<path d="M684.7 292.7H724.5" stroke="#E2536F" stroke-width="1.9" fill="none"/>
<text x="742.5" y="300.5" font-size="21" font-weight="normal" text-anchor="start">C2</text>
<path d="M684.7 318.3H724.5" stroke="#66D45A" stroke-width="1.9" fill="none"/>
<text x="742.5" y="326.1" font-size="21" font-weight="normal" text-anchor="start">C3</text>
<path d="M684.7 343.9H724.5" stroke="#2497E6" stroke-width="1.9" fill="none"/>
<text x="742.5" y="351.7" font-size="21" font-weight="normal" text-anchor="start">C4</text>
<path d="M684.7 369.5H724.5" stroke="#3FE2E8" stroke-width="1.9" fill="none"/>
<text x="742.5" y="377.3" font-size="21" font-weight="normal" text-anchor="start">C5</text>
<path d="M684.7 395.1H724.5" stroke="#D11BC2" stroke-width="1.9" fill="none"/>
<text x="742.5" y="402.9" font-size="21" font-weight="normal" text-anchor="start">C6</text>
<path d="M684.7 420.7H724.5" stroke="#F6C81E" stroke-width="1.9" fill="none"/>
<text x="742.5" y="428.5" font-size="21" font-weight="normal" text-anchor="start">C7</text>
<text x="798" y="105.6" font-size="24" font-weight="normal" text-anchor="start" textLength="28.5" lengthAdjust="spacingAndGlyphs">(b)</text>
<g shape-rendering="crispEdges">
<rect x="966" y="115.2" width="36.6" height="91.6" fill="#00ECEC"/>
<rect x="1002.6" y="115.2" width="36.6" height="91.6" fill="#000000"/>
<rect x="1039.2" y="115.2" width="36.6" height="91.6" fill="#00ECEC"/>
<rect x="1075.8" y="115.2" width="36.6" height="91.6" fill="#000000"/>
<rect x="1112.4" y="115.2" width="36.6" height="91.6" fill="#00ECEC"/>
<rect x="966" y="215.8" width="36.6" height="89.2" fill="#00ECEC"/>
<rect x="1002.6" y="215.8" width="36.6" height="89.2" fill="#000000"/>
<rect x="1039.2" y="215.8" width="36.6" height="89.2" fill="#00ECEC"/>
<rect x="1075.8" y="215.8" width="36.6" height="89.2" fill="#000000"/>
<rect x="1112.4" y="215.8" width="36.6" height="89.2" fill="#000000"/>
<rect x="966" y="313.8" width="36.6" height="80.8" fill="#00ECEC"/>
<rect x="1002.6" y="313.8" width="36.6" height="80.8" fill="#000000"/>
<rect x="1039.2" y="313.8" width="36.6" height="80.8" fill="#00ECEC"/>
<rect x="1075.8" y="313.8" width="36.6" height="80.8" fill="#000000"/>
<rect x="1112.4" y="313.8" width="36.6" height="80.8" fill="#00ECEC"/>
<rect x="966" y="403.5" width="36.6" height="74.3" fill="#FFFF00"/>
<rect x="1002.6" y="403.5" width="36.6" height="74.3" fill="#000000"/>
<rect x="1039.2" y="403.5" width="36.6" height="74.3" fill="#FFFF00"/>
<rect x="1075.8" y="403.5" width="36.6" height="74.3" fill="#00ECEC"/>
<rect x="1112.4" y="403.5" width="36.6" height="74.3" fill="#FFFF00"/>
<rect x="966" y="486.5" width="36.6" height="93.1" fill="#00ECEC"/>
<rect x="1002.6" y="486.5" width="36.6" height="93.1" fill="#FFFF00"/>
<rect x="1039.2" y="486.5" width="36.6" height="93.1" fill="#00ECEC"/>
<rect x="1075.8" y="486.5" width="36.6" height="93.1" fill="#FFFF00"/>
<rect x="1112.4" y="486.5" width="36.6" height="93.1" fill="#00ECEC"/>
<rect x="966" y="588.1" width="36.6" height="51.9" fill="#FFFF00"/>
<rect x="1002.6" y="588.1" width="36.6" height="51.9" fill="#00ECEC"/>
<rect x="1039.2" y="588.1" width="36.6" height="51.9" fill="#FFFF00"/>
<rect x="1075.8" y="588.1" width="36.6" height="51.9" fill="#00ECEC"/>
<rect x="1112.4" y="588.1" width="36.6" height="51.9" fill="#FFFF00"/>
<rect x="966" y="649.0" width="36.6" height="74.0" fill="#FFFF00"/>
<rect x="1002.6" y="649.0" width="36.6" height="74.0" fill="#00ECEC"/>
<rect x="1039.2" y="649.0" width="36.6" height="74.0" fill="#FFFF00"/>
<rect x="1075.8" y="649.0" width="36.6" height="74.0" fill="#000000"/>
<rect x="1112.4" y="649.0" width="36.6" height="74.0" fill="#FFFF00"/>
</g>
<g shape-rendering="crispEdges">
<rect x="966" y="115" width="37" height="1" fill="#000000"/>
<rect x="966" y="173" width="37" height="1" fill="#000000"/>
<rect x="966" y="196" width="37" height="1" fill="#000000"/>
<rect x="1112" y="115" width="37" height="1" fill="#000000"/>
<rect x="1112" y="173" width="37" height="1" fill="#000000"/>
<rect x="1112" y="196" width="37" height="1" fill="#000000"/>
<rect x="1112" y="199" width="37" height="1" fill="#000000" fill-opacity="0.45"/>
<rect x="966" y="219" width="37" height="2" fill="#000000"/>
<rect x="966" y="222" width="37" height="1" fill="#000000"/>
<rect x="966" y="228" width="37" height="1" fill="#000000" fill-opacity="0.5"/>
<rect x="966" y="231" width="37" height="1" fill="#000000" fill-opacity="0.5"/>
<rect x="966" y="234" width="37" height="2" fill="#000000"/>
<rect x="966" y="240" width="37" height="1" fill="#000000" fill-opacity="0.8"/>
<rect x="966" y="243" width="37" height="1" fill="#000000" fill-opacity="0.8"/>
<rect x="966" y="254" width="37" height="1" fill="#000000"/>
<rect x="966" y="257" width="37" height="1" fill="#000000" fill-opacity="0.9"/>
<rect x="966" y="268" width="37" height="1" fill="#000000" fill-opacity="0.6"/>
<rect x="966" y="271" width="37" height="1" fill="#000000" fill-opacity="0.7"/>
<rect x="966" y="276" width="37" height="1" fill="#000000"/>
<rect x="966" y="282" width="37" height="1" fill="#000000" fill-opacity="0.6"/>
<rect x="966" y="285" width="37" height="1" fill="#000000" fill-opacity="0.8"/>
<rect x="966" y="291" width="37" height="2" fill="#000000"/>
<rect x="966" y="294" width="37" height="1" fill="#000000" fill-opacity="0.7"/>
<rect x="966" y="297" width="37" height="1" fill="#000000"/>
<rect x="966" y="299" width="37" height="1" fill="#000000" fill-opacity="0.7"/>
<rect x="966" y="303" width="37" height="1" fill="#000000"/>
<rect x="1112" y="259" width="37" height="1" fill="#00ECEC"/>
<rect x="1112" y="262" width="37" height="1" fill="#00ECEC" fill-opacity="0.8"/>
<rect x="966" y="315" width="37" height="1" fill="#000000" fill-opacity="0.8"/>
<rect x="966" y="324" width="37" height="1" fill="#000000"/>
<rect x="966" y="328" width="37" height="1" fill="#000000" fill-opacity="0.9"/>
<rect x="966" y="330" width="37" height="1" fill="#000000" fill-opacity="0.7"/>
<rect x="966" y="335" width="37" height="3" fill="#000000" fill-opacity="0.85"/>
<rect x="966" y="349" width="37" height="1" fill="#000000"/>
<rect x="966" y="356" width="37" height="1" fill="#000000"/>
<rect x="966" y="390" width="37" height="1" fill="#000000"/>
<rect x="1112" y="320" width="37" height="1" fill="#000000" fill-opacity="0.6"/>
<rect x="1112" y="323" width="37" height="1" fill="#000000" fill-opacity="0.8"/>
<rect x="1112" y="324" width="37" height="1" fill="#000000"/>
<rect x="1112" y="332" width="37" height="1" fill="#000000"/>
<rect x="1112" y="333" width="37" height="1" fill="#000000"/>
<rect x="1112" y="334" width="37" height="1" fill="#000000" fill-opacity="0.6"/>
<rect x="1112" y="335" width="37" height="1" fill="#000000"/>
<rect x="1112" y="336" width="37" height="1" fill="#000000" fill-opacity="0.8"/>
<rect x="1112" y="337" width="37" height="1" fill="#000000"/>
<rect x="1112" y="338" width="37" height="1" fill="#000000" fill-opacity="0.8"/>
<rect x="1112" y="339" width="37" height="1" fill="#000000"/>
<rect x="1112" y="340" width="37" height="1" fill="#000000" fill-opacity="0.8"/>
<rect x="1112" y="342" width="37" height="1" fill="#000000"/>
<rect x="1112" y="343" width="37" height="1" fill="#000000"/>
<rect x="1112" y="344" width="37" height="1" fill="#000000" fill-opacity="0.8"/>
<rect x="1112" y="345" width="37" height="1" fill="#000000"/>
<rect x="1112" y="347" width="37" height="1" fill="#000000"/>
<rect x="1112" y="349" width="37" height="1" fill="#000000" fill-opacity="0.6"/>
<rect x="1112" y="351" width="37" height="1" fill="#000000"/>
<rect x="1112" y="352" width="37" height="1" fill="#000000"/>
<rect x="1112" y="354" width="37" height="1" fill="#000000"/>
<rect x="1112" y="355" width="37" height="1" fill="#000000"/>
<rect x="1112" y="358" width="37" height="1" fill="#000000"/>
<rect x="1112" y="359" width="37" height="1" fill="#000000"/>
<rect x="1112" y="360" width="37" height="1" fill="#000000" fill-opacity="0.6"/>
<rect x="1112" y="361" width="37" height="1" fill="#000000"/>
<rect x="1112" y="362" width="37" height="1" fill="#000000"/>
<rect x="1112" y="365" width="37" height="1" fill="#000000" fill-opacity="0.6"/>
<rect x="1112" y="366" width="37" height="1" fill="#000000" fill-opacity="0.6"/>
<rect x="1112" y="368" width="37" height="1" fill="#000000" fill-opacity="0.8"/>
<rect x="1112" y="370" width="37" height="1" fill="#000000"/>
<rect x="1112" y="371" width="37" height="1" fill="#000000"/>
<rect x="1112" y="372" width="37" height="1" fill="#000000"/>
<rect x="1112" y="373" width="37" height="1" fill="#000000" fill-opacity="0.8"/>
<rect x="1112" y="374" width="37" height="1" fill="#000000" fill-opacity="0.8"/>
<rect x="1112" y="376" width="37" height="1" fill="#000000"/>
<rect x="1112" y="377" width="37" height="1" fill="#000000"/>
<rect x="1112" y="378" width="37" height="1" fill="#000000" fill-opacity="0.8"/>
<rect x="1112" y="379" width="37" height="1" fill="#000000" fill-opacity="0.6"/>
<rect x="1112" y="380" width="37" height="1" fill="#000000" fill-opacity="0.6"/>
<rect x="1112" y="382" width="37" height="1" fill="#000000" fill-opacity="0.6"/>
<rect x="1112" y="383" width="37" height="1" fill="#000000"/>
<rect x="1112" y="384" width="37" height="1" fill="#000000"/>
<rect x="1112" y="386" width="37" height="1" fill="#000000"/>
<rect x="1112" y="387" width="37" height="1" fill="#000000"/>
<rect x="1112" y="389" width="37" height="1" fill="#000000" fill-opacity="0.6"/>
<rect x="1112" y="391" width="37" height="1" fill="#000000"/>
<rect x="1112" y="392" width="37" height="1" fill="#000000" fill-opacity="0.8"/>
<rect x="1112" y="393" width="37" height="1" fill="#000000" fill-opacity="0.6"/>
<rect x="966" y="421" width="37" height="1" fill="#000000"/>
<rect x="1076" y="447" width="36" height="1" fill="#000000" fill-opacity="0.85"/>
<rect x="1076" y="452" width="36" height="1" fill="#000000" fill-opacity="0.85"/>
<rect x="1076" y="462" width="36" height="1" fill="#000000" fill-opacity="0.85"/>
<rect x="1076" y="467" width="36" height="1" fill="#000000" fill-opacity="0.85"/>
<rect x="1112" y="437" width="37" height="1" fill="#000000"/>
<rect x="1112" y="454" width="37" height="1" fill="#000000"/>
<rect x="966" y="487" width="37" height="1" fill="#777777"/>
<rect x="966" y="498" width="37" height="1" fill="#000000" fill-opacity="0.75"/>
<rect x="966" y="506" width="37" height="1" fill="#000000"/>
<rect x="966" y="508" width="37" height="1" fill="#000000" fill-opacity="0.8"/>
<rect x="966" y="509" width="37" height="1" fill="#000000" fill-opacity="0.7"/>
<rect x="966" y="523" width="37" height="1" fill="#000000" fill-opacity="0.6"/>
<rect x="966" y="528" width="37" height="1" fill="#000000"/>
<rect x="966" y="543" width="37" height="1" fill="#000000" fill-opacity="0.8"/>
<rect x="1003" y="527" width="36" height="1" fill="#000000" fill-opacity="0.7"/>
<rect x="1112" y="497" width="37" height="1" fill="#000000" fill-opacity="0.9"/>
<rect x="1112" y="508" width="37" height="1" fill="#000000"/>
<rect x="1076" y="487" width="36" height="1" fill="#000000" fill-opacity="0.6"/>
<rect x="1076" y="488" width="36" height="1" fill="#000000"/>
<rect x="1076" y="491" width="36" height="1" fill="#000000" fill-opacity="0.6"/>
<rect x="1076" y="495" width="36" height="1" fill="#000000"/>
<rect x="1076" y="497" width="36" height="1" fill="#000000" fill-opacity="0.6"/>
<rect x="1076" y="498" width="36" height="1" fill="#000000"/>
<rect x="1076" y="499" width="36" height="1" fill="#000000" fill-opacity="0.85"/>
<rect x="1076" y="500" width="36" height="1" fill="#000000"/>
<rect x="1076" y="501" width="36" height="1" fill="#000000"/>
<rect x="1076" y="507" width="36" height="1" fill="#000000"/>
<rect x="1076" y="509" width="36" height="1" fill="#000000" fill-opacity="0.85"/>
<rect x="1076" y="512" width="36" height="1" fill="#000000"/>
<rect x="1076" y="513" width="36" height="1" fill="#000000" fill-opacity="0.85"/>
<rect x="1076" y="514" width="36" height="1" fill="#000000"/>
<rect x="1076" y="515" width="36" height="1" fill="#000000" fill-opacity="0.85"/>
<rect x="1076" y="522" width="36" height="1" fill="#000000" fill-opacity="0.6"/>
<rect x="1076" y="525" width="36" height="1" fill="#000000"/>
<rect x="1076" y="529" width="36" height="1" fill="#000000"/>
<rect x="1076" y="531" width="36" height="1" fill="#000000"/>
<rect x="1076" y="535" width="36" height="1" fill="#000000" fill-opacity="0.6"/>
<rect x="1076" y="536" width="36" height="1" fill="#000000"/>
<rect x="1076" y="537" width="36" height="1" fill="#000000"/>
<rect x="1076" y="538" width="36" height="1" fill="#000000"/>
<rect x="1076" y="539" width="36" height="1" fill="#000000"/>
<rect x="1076" y="541" width="36" height="1" fill="#000000" fill-opacity="0.6"/>
<rect x="1076" y="542" width="36" height="1" fill="#000000"/>
<rect x="1076" y="543" width="36" height="1" fill="#000000"/>
<rect x="1076" y="545" width="36" height="1" fill="#000000"/>
<rect x="1076" y="547" width="36" height="1" fill="#000000" fill-opacity="0.6"/>
<rect x="1076" y="548" width="36" height="1" fill="#000000"/>
<rect x="1076" y="549" width="36" height="1" fill="#000000" fill-opacity="0.85"/>
<rect x="1076" y="550" width="36" height="1" fill="#000000" fill-opacity="0.6"/>
<rect x="1076" y="553" width="36" height="1" fill="#000000"/>
<rect x="1076" y="557" width="36" height="1" fill="#000000" fill-opacity="0.6"/>
<rect x="1076" y="560" width="36" height="1" fill="#000000"/>
<rect x="1076" y="563" width="36" height="1" fill="#000000" fill-opacity="0.6"/>
<rect x="1076" y="567" width="36" height="1" fill="#000000" fill-opacity="0.6"/>
<rect x="1076" y="572" width="36" height="1" fill="#000000"/>
<rect x="1076" y="573" width="36" height="1" fill="#000000"/>
<rect x="1076" y="575" width="36" height="1" fill="#000000" fill-opacity="0.85"/>
<rect x="1076" y="576" width="36" height="1" fill="#000000"/>
<rect x="1076" y="578" width="36" height="1" fill="#000000"/>
<rect x="966" y="589" width="37" height="1" fill="#000000" fill-opacity="0.7"/>
<rect x="966" y="624" width="37" height="1" fill="#000000"/>
<rect x="966" y="636" width="37" height="1" fill="#000000" fill-opacity="0.6"/>
<rect x="1003" y="609" width="36" height="1" fill="#000000" fill-opacity="0.7"/>
<rect x="1076" y="588" width="36" height="1" fill="#000000"/>
<rect x="1076" y="590" width="36" height="1" fill="#000000" fill-opacity="0.6"/>
<rect x="1076" y="609" width="36" height="1" fill="#000000" fill-opacity="0.7"/>
<rect x="1076" y="611" width="36" height="1" fill="#000000" fill-opacity="0.5"/>
<rect x="1076" y="667" width="36" height="2" fill="#00ECEC" fill-opacity="0.12"/>
<rect x="1076" y="675" width="36" height="1" fill="#00ECEC" fill-opacity="0.12"/>
<rect x="1076" y="689" width="36" height="1" fill="#00ECEC" fill-opacity="0.8"/>
<rect x="1076" y="691" width="36" height="2" fill="#00ECEC"/>
<rect x="1076" y="701" width="36" height="1" fill="#00ECEC" fill-opacity="0.9"/>
<rect x="1076" y="704" width="36" height="1" fill="#00ECEC" fill-opacity="0.8"/>
<rect x="1076" y="709" width="36" height="1" fill="#00ECEC" fill-opacity="0.9"/>
</g>
<text transform="translate(991.3 110) rotate(-90) scale(0.925 1)" font-size="20.5">FEV1</text>
<text transform="translate(1027.9 110) rotate(-90) scale(0.925 1)" font-size="20.5">FVC</text>
<text transform="translate(1064.5 110) rotate(-90) scale(0.925 1)" font-size="20.5">Ratiopre</text>
<text transform="translate(1101.1 110) rotate(-90) scale(0.925 1)" font-size="20.5">WBCDIFF1</text>
<text transform="translate(1137.7 110) rotate(-90) scale(0.925 1)" font-size="20.5">WBCDIFF4</text>
<text x="1157.3" y="158.9" font-size="17.7" font-weight="normal" text-anchor="start" textLength="21.3" lengthAdjust="spacingAndGlyphs">C1</text>
<text x="1157.3" y="260.8" font-size="17.7" font-weight="normal" text-anchor="start" textLength="21.3" lengthAdjust="spacingAndGlyphs">C2</text>
<text x="1157.3" y="355.4" font-size="17.7" font-weight="normal" text-anchor="start" textLength="21.3" lengthAdjust="spacingAndGlyphs">C3</text>
<text x="1157.3" y="441.0" font-size="17.7" font-weight="normal" text-anchor="start" textLength="21.3" lengthAdjust="spacingAndGlyphs">C4</text>
<text x="1157.3" y="534.0" font-size="17.7" font-weight="normal" text-anchor="start" textLength="21.3" lengthAdjust="spacingAndGlyphs">C5</text>
<text x="1157.3" y="616.0" font-size="17.7" font-weight="normal" text-anchor="start" textLength="21.3" lengthAdjust="spacingAndGlyphs">C6</text>
<text x="1157.3" y="687.5" font-size="17.7" font-weight="normal" text-anchor="start" textLength="21.3" lengthAdjust="spacingAndGlyphs">C7</text>
<text x="851.5" y="260.9" font-size="17.5" font-weight="bold" text-anchor="start" textLength="80.5" lengthAdjust="spacingAndGlyphs">Module 1</text>
<text x="851.5" y="444.0" font-size="17.5" font-weight="bold" text-anchor="start" textLength="80.5" lengthAdjust="spacingAndGlyphs">Module 2</text>
<text x="851.5" y="539.7" font-size="17.5" font-weight="bold" text-anchor="start" textLength="80.5" lengthAdjust="spacingAndGlyphs">Module 3</text>
<text x="851.5" y="663.8" font-size="17.5" font-weight="bold" text-anchor="start" textLength="80.5" lengthAdjust="spacingAndGlyphs">Module 4</text>
<path d="M962 115.5 C955.4 116.0 950.4 115.5 950.4 121.5 V390.5 C950.4 396.5 955.4 396.0 962 396.5 M950.4 256.8H938.5" fill="none" stroke="#4472C4" stroke-width="2.5" stroke-linecap="round"/>
<path d="M962 402.5 C955.4 403.0 950.4 402.5 950.4 408.5 V470.4 C950.4 476.4 955.4 475.9 962 476.4 M950.4 438.4H938.5" fill="none" stroke="#4472C4" stroke-width="2.5" stroke-linecap="round"/>
<path d="M962 487.5 C955.4 488.0 950.4 487.5 950.4 493.5 V573.6 C950.4 579.6 955.4 579.1 962 579.6 M950.4 533.5H938.5" fill="none" stroke="#4472C4" stroke-width="2.5" stroke-linecap="round"/>
<path d="M962 592.0 C955.4 592.5 950.4 592.0 950.4 598.0 V718.4 C950.4 724.4 955.4 723.9 962 724.4 M950.4 657.4H938.5" fill="none" stroke="#4472C4" stroke-width="2.5" stroke-linecap="round"/>
<text x="960.3" y="742.8" font-size="15.4" font-weight="bold" text-anchor="start" textLength="194.5" lengthAdjust="spacingAndGlyphs">Signed weight estimation</text>
<rect x="961" y="752" width="16" height="16" fill="#FFFF00" shape-rendering="crispEdges"/>
<text x="983.2" y="765.7" font-size="16.5" font-weight="normal" text-anchor="start">−1</text>
<rect x="961" y="770" width="16" height="16" fill="#000000" shape-rendering="crispEdges"/>
<text x="983.2" y="783.6" font-size="16.5" font-weight="normal" text-anchor="start">0</text>
<rect x="961" y="788" width="16" height="16" fill="#00ECEC" shape-rendering="crispEdges"/>
<text x="983.2" y="801.5" font-size="16.5" font-weight="normal" text-anchor="start">1</text>
</svg>
</body></html>
